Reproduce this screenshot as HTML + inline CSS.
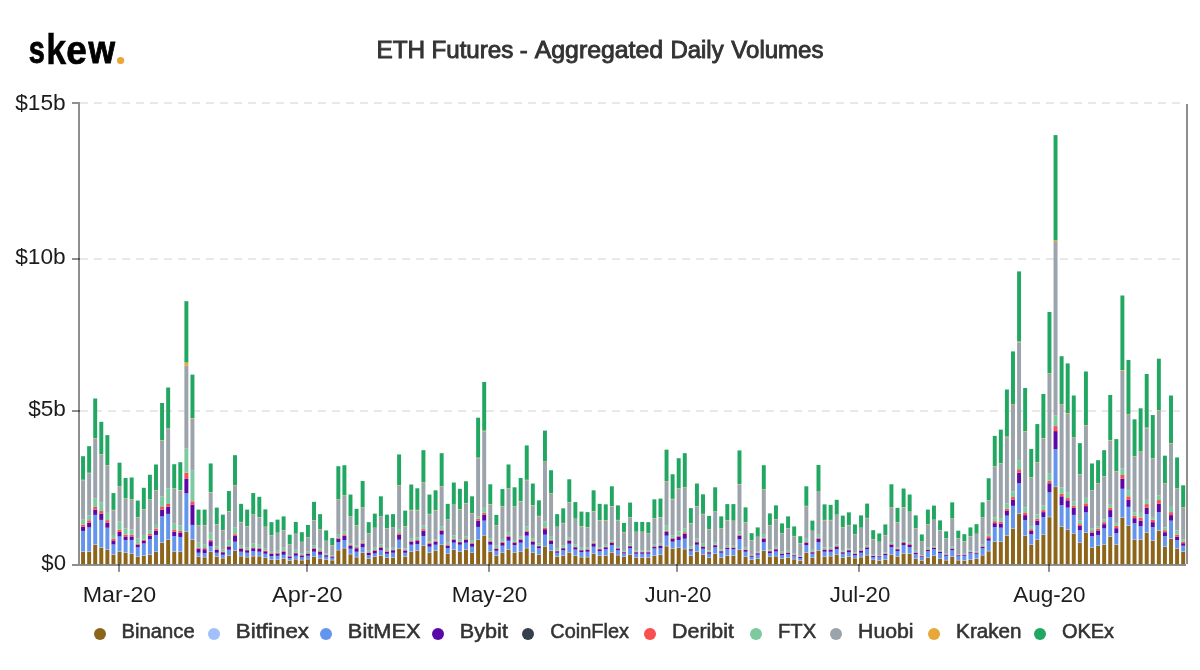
<!DOCTYPE html>
<html><head><meta charset="utf-8"><title>ETH Futures - Aggregated Daily Volumes</title>
<style>
html,body{margin:0;padding:0;background:#fff;}
body{width:1200px;height:670px;overflow:hidden;font-family:"Liberation Sans",sans-serif;}
svg{display:block;position:absolute;left:0;top:0;}
text{font-family:"Liberation Sans",sans-serif;}
.ax{fill:#1c1c1c;}
.lg{fill:#333;stroke:#333;}
.tt{fill:#333;stroke:#333;}
.logo{fill:#000;stroke:#000;font-weight:bold;}
</style></head><body>
<svg width="1200" height="670" viewBox="0 0 1200 670">
<rect x="0" y="0" width="1200" height="670" fill="#ffffff"/>

<circle cx="120.6" cy="60.5" r="3.6" fill="#e8a736"/>
<line x1="80" x2="1186" y1="103" y2="103" stroke="#e8e8e8" stroke-width="2" stroke-dasharray="8 6"/>
<line x1="80" x2="1186" y1="259" y2="259" stroke="#e8e8e8" stroke-width="2" stroke-dasharray="8 6"/>
<line x1="80" x2="1186" y1="411" y2="411" stroke="#e8e8e8" stroke-width="2" stroke-dasharray="8 6"/>
<g>
<rect x="81.08" y="551.75" width="3.95" height="12.35" fill="#8c641a"/>
<rect x="81.08" y="551.40" width="3.95" height="0.35" fill="#a0c0fa"/>
<rect x="81.08" y="530.93" width="3.95" height="20.47" fill="#6495ed"/>
<rect x="81.08" y="526.67" width="3.95" height="4.26" fill="#5a08a8"/>
<rect x="81.08" y="524.54" width="3.95" height="2.13" fill="#fb4e4e"/>
<rect x="81.08" y="519.65" width="3.95" height="4.89" fill="#7dcaa0"/>
<rect x="81.08" y="480.23" width="3.95" height="39.41" fill="#9ba3ab"/>
<rect x="81.08" y="479.77" width="3.95" height="0.47" fill="#e8a838"/>
<rect x="81.08" y="456.19" width="3.95" height="23.58" fill="#22a762"/>
<rect x="87.15" y="551.75" width="3.95" height="12.35" fill="#8c641a"/>
<rect x="87.15" y="551.40" width="3.95" height="0.35" fill="#a0c0fa"/>
<rect x="87.15" y="527.42" width="3.95" height="23.98" fill="#6495ed"/>
<rect x="87.15" y="522.66" width="3.95" height="4.77" fill="#5a08a8"/>
<rect x="87.15" y="520.27" width="3.95" height="2.38" fill="#fb4e4e"/>
<rect x="87.15" y="515.38" width="3.95" height="4.89" fill="#7dcaa0"/>
<rect x="87.15" y="473.23" width="3.95" height="42.15" fill="#9ba3ab"/>
<rect x="87.15" y="472.74" width="3.95" height="0.49" fill="#e8a838"/>
<rect x="87.15" y="446.16" width="3.95" height="26.59" fill="#22a762"/>
<rect x="93.23" y="544.73" width="3.95" height="19.37" fill="#8c641a"/>
<rect x="93.23" y="544.38" width="3.95" height="0.35" fill="#a0c0fa"/>
<rect x="93.23" y="514.88" width="3.95" height="29.50" fill="#6495ed"/>
<rect x="93.23" y="509.61" width="3.95" height="5.27" fill="#5a08a8"/>
<rect x="93.23" y="507.01" width="3.95" height="2.60" fill="#fb4e4e"/>
<rect x="93.23" y="498.33" width="3.95" height="8.69" fill="#7dcaa0"/>
<rect x="93.23" y="438.71" width="3.95" height="59.61" fill="#9ba3ab"/>
<rect x="93.23" y="438.13" width="3.95" height="0.58" fill="#e8a838"/>
<rect x="93.23" y="398.50" width="3.95" height="39.63" fill="#22a762"/>
<rect x="99.31" y="547.74" width="3.95" height="16.36" fill="#8c641a"/>
<rect x="99.31" y="547.39" width="3.95" height="0.35" fill="#a0c0fa"/>
<rect x="99.31" y="519.90" width="3.95" height="27.49" fill="#6495ed"/>
<rect x="99.31" y="513.63" width="3.95" height="6.27" fill="#5a08a8"/>
<rect x="99.31" y="511.03" width="3.95" height="2.60" fill="#fb4e4e"/>
<rect x="99.31" y="502.34" width="3.95" height="8.69" fill="#7dcaa0"/>
<rect x="99.31" y="454.72" width="3.95" height="47.62" fill="#9ba3ab"/>
<rect x="99.31" y="454.18" width="3.95" height="0.53" fill="#e8a838"/>
<rect x="99.31" y="421.83" width="3.95" height="32.36" fill="#22a762"/>
<rect x="105.39" y="549.74" width="3.95" height="14.36" fill="#8c641a"/>
<rect x="105.39" y="549.39" width="3.95" height="0.35" fill="#a0c0fa"/>
<rect x="105.39" y="527.67" width="3.95" height="21.72" fill="#6495ed"/>
<rect x="105.39" y="522.66" width="3.95" height="5.02" fill="#5a08a8"/>
<rect x="105.39" y="520.15" width="3.95" height="2.51" fill="#fb4e4e"/>
<rect x="105.39" y="512.87" width="3.95" height="7.27" fill="#7dcaa0"/>
<rect x="105.39" y="465.73" width="3.95" height="47.15" fill="#9ba3ab"/>
<rect x="105.39" y="465.22" width="3.95" height="0.51" fill="#e8a838"/>
<rect x="105.39" y="435.12" width="3.95" height="30.10" fill="#22a762"/>
<rect x="111.47" y="554.76" width="3.95" height="9.34" fill="#8c641a"/>
<rect x="111.47" y="554.41" width="3.95" height="0.35" fill="#a0c0fa"/>
<rect x="111.47" y="544.48" width="3.95" height="9.93" fill="#6495ed"/>
<rect x="111.47" y="540.46" width="3.95" height="4.01" fill="#5a08a8"/>
<rect x="111.47" y="538.46" width="3.95" height="2.01" fill="#fb4e4e"/>
<rect x="111.47" y="534.95" width="3.95" height="3.51" fill="#7dcaa0"/>
<rect x="111.47" y="510.26" width="3.95" height="24.69" fill="#9ba3ab"/>
<rect x="111.47" y="509.86" width="3.95" height="0.39" fill="#e8a838"/>
<rect x="111.47" y="493.06" width="3.95" height="16.80" fill="#22a762"/>
<rect x="117.54" y="551.75" width="3.95" height="12.35" fill="#8c641a"/>
<rect x="117.54" y="551.40" width="3.95" height="0.35" fill="#a0c0fa"/>
<rect x="117.54" y="536.45" width="3.95" height="14.95" fill="#6495ed"/>
<rect x="117.54" y="531.94" width="3.95" height="4.51" fill="#5a08a8"/>
<rect x="117.54" y="529.68" width="3.95" height="2.26" fill="#fb4e4e"/>
<rect x="117.54" y="521.65" width="3.95" height="8.03" fill="#7dcaa0"/>
<rect x="117.54" y="486.74" width="3.95" height="34.91" fill="#9ba3ab"/>
<rect x="117.54" y="486.29" width="3.95" height="0.45" fill="#e8a838"/>
<rect x="117.54" y="462.71" width="3.95" height="23.58" fill="#22a762"/>
<rect x="123.62" y="552.75" width="3.95" height="11.35" fill="#8c641a"/>
<rect x="123.62" y="552.40" width="3.95" height="0.35" fill="#a0c0fa"/>
<rect x="123.62" y="539.96" width="3.95" height="12.44" fill="#6495ed"/>
<rect x="123.62" y="536.45" width="3.95" height="3.51" fill="#5a08a8"/>
<rect x="123.62" y="534.69" width="3.95" height="1.76" fill="#fb4e4e"/>
<rect x="123.62" y="528.42" width="3.95" height="6.27" fill="#7dcaa0"/>
<rect x="123.62" y="498.75" width="3.95" height="29.68" fill="#9ba3ab"/>
<rect x="123.62" y="498.33" width="3.95" height="0.42" fill="#e8a838"/>
<rect x="123.62" y="478.01" width="3.95" height="20.32" fill="#22a762"/>
<rect x="129.70" y="553.76" width="3.95" height="10.34" fill="#8c641a"/>
<rect x="129.70" y="553.41" width="3.95" height="0.35" fill="#a0c0fa"/>
<rect x="129.70" y="539.96" width="3.95" height="13.44" fill="#6495ed"/>
<rect x="129.70" y="536.45" width="3.95" height="3.51" fill="#5a08a8"/>
<rect x="129.70" y="534.69" width="3.95" height="1.76" fill="#fb4e4e"/>
<rect x="129.70" y="529.43" width="3.95" height="5.27" fill="#7dcaa0"/>
<rect x="129.70" y="499.75" width="3.95" height="29.67" fill="#9ba3ab"/>
<rect x="129.70" y="499.33" width="3.95" height="0.42" fill="#e8a838"/>
<rect x="129.70" y="477.51" width="3.95" height="21.82" fill="#22a762"/>
<rect x="135.78" y="556.77" width="3.95" height="7.33" fill="#8c641a"/>
<rect x="135.78" y="556.42" width="3.95" height="0.35" fill="#a0c0fa"/>
<rect x="135.78" y="547.24" width="3.95" height="9.18" fill="#6495ed"/>
<rect x="135.78" y="544.73" width="3.95" height="2.51" fill="#5a08a8"/>
<rect x="135.78" y="543.47" width="3.95" height="1.25" fill="#fb4e4e"/>
<rect x="135.78" y="538.46" width="3.95" height="5.02" fill="#7dcaa0"/>
<rect x="135.78" y="517.51" width="3.95" height="20.94" fill="#9ba3ab"/>
<rect x="135.78" y="517.14" width="3.95" height="0.38" fill="#e8a838"/>
<rect x="135.78" y="500.58" width="3.95" height="16.55" fill="#22a762"/>
<rect x="141.85" y="555.76" width="3.95" height="8.34" fill="#8c641a"/>
<rect x="141.85" y="555.41" width="3.95" height="0.35" fill="#a0c0fa"/>
<rect x="141.85" y="543.47" width="3.95" height="11.94" fill="#6495ed"/>
<rect x="141.85" y="540.96" width="3.95" height="2.51" fill="#5a08a8"/>
<rect x="141.85" y="539.71" width="3.95" height="1.25" fill="#fb4e4e"/>
<rect x="141.85" y="534.95" width="3.95" height="4.77" fill="#7dcaa0"/>
<rect x="141.85" y="509.51" width="3.95" height="25.43" fill="#9ba3ab"/>
<rect x="141.85" y="509.11" width="3.95" height="0.40" fill="#e8a838"/>
<rect x="141.85" y="487.79" width="3.95" height="21.32" fill="#22a762"/>
<rect x="147.93" y="554.76" width="3.95" height="9.34" fill="#8c641a"/>
<rect x="147.93" y="554.41" width="3.95" height="0.35" fill="#a0c0fa"/>
<rect x="147.93" y="539.21" width="3.95" height="15.20" fill="#6495ed"/>
<rect x="147.93" y="535.70" width="3.95" height="3.51" fill="#5a08a8"/>
<rect x="147.93" y="533.94" width="3.95" height="1.76" fill="#fb4e4e"/>
<rect x="147.93" y="530.18" width="3.95" height="3.76" fill="#7dcaa0"/>
<rect x="147.93" y="499.76" width="3.95" height="30.42" fill="#9ba3ab"/>
<rect x="147.93" y="499.33" width="3.95" height="0.43" fill="#e8a838"/>
<rect x="147.93" y="474.75" width="3.95" height="24.58" fill="#22a762"/>
<rect x="154.01" y="551.75" width="3.95" height="12.35" fill="#8c641a"/>
<rect x="154.01" y="551.40" width="3.95" height="0.35" fill="#a0c0fa"/>
<rect x="154.01" y="534.95" width="3.95" height="16.45" fill="#6495ed"/>
<rect x="154.01" y="530.68" width="3.95" height="4.26" fill="#5a08a8"/>
<rect x="154.01" y="528.55" width="3.95" height="2.13" fill="#fb4e4e"/>
<rect x="154.01" y="524.91" width="3.95" height="3.64" fill="#7dcaa0"/>
<rect x="154.01" y="490.75" width="3.95" height="34.16" fill="#9ba3ab"/>
<rect x="154.01" y="490.30" width="3.95" height="0.45" fill="#e8a838"/>
<rect x="154.01" y="464.47" width="3.95" height="25.83" fill="#22a762"/>
<rect x="160.09" y="542.72" width="3.95" height="21.38" fill="#8c641a"/>
<rect x="160.09" y="542.37" width="3.95" height="0.35" fill="#a0c0fa"/>
<rect x="160.09" y="516.38" width="3.95" height="25.99" fill="#6495ed"/>
<rect x="160.09" y="509.61" width="3.95" height="6.77" fill="#5a08a8"/>
<rect x="160.09" y="507.01" width="3.95" height="2.60" fill="#fb4e4e"/>
<rect x="160.09" y="496.32" width="3.95" height="10.69" fill="#7dcaa0"/>
<rect x="160.09" y="440.71" width="3.95" height="55.61" fill="#9ba3ab"/>
<rect x="160.09" y="440.14" width="3.95" height="0.57" fill="#e8a838"/>
<rect x="160.09" y="403.00" width="3.95" height="37.14" fill="#22a762"/>
<rect x="166.17" y="539.96" width="3.95" height="24.14" fill="#8c641a"/>
<rect x="166.17" y="539.61" width="3.95" height="0.35" fill="#a0c0fa"/>
<rect x="166.17" y="513.88" width="3.95" height="25.73" fill="#6495ed"/>
<rect x="166.17" y="506.60" width="3.95" height="7.27" fill="#5a08a8"/>
<rect x="166.17" y="504.00" width="3.95" height="2.60" fill="#fb4e4e"/>
<rect x="166.17" y="488.29" width="3.95" height="15.71" fill="#7dcaa0"/>
<rect x="166.17" y="428.95" width="3.95" height="59.34" fill="#9ba3ab"/>
<rect x="166.17" y="428.35" width="3.95" height="0.60" fill="#e8a838"/>
<rect x="166.17" y="387.50" width="3.95" height="40.85" fill="#22a762"/>
<rect x="172.25" y="551.75" width="3.95" height="12.35" fill="#8c641a"/>
<rect x="172.25" y="551.40" width="3.95" height="0.35" fill="#a0c0fa"/>
<rect x="172.25" y="536.20" width="3.95" height="15.20" fill="#6495ed"/>
<rect x="172.25" y="531.68" width="3.95" height="4.51" fill="#5a08a8"/>
<rect x="172.25" y="529.43" width="3.95" height="2.26" fill="#fb4e4e"/>
<rect x="172.25" y="523.66" width="3.95" height="5.77" fill="#7dcaa0"/>
<rect x="172.25" y="488.74" width="3.95" height="34.92" fill="#9ba3ab"/>
<rect x="172.25" y="488.29" width="3.95" height="0.45" fill="#e8a838"/>
<rect x="172.25" y="464.22" width="3.95" height="24.08" fill="#22a762"/>
<rect x="178.32" y="551.75" width="3.95" height="12.35" fill="#8c641a"/>
<rect x="178.32" y="551.40" width="3.95" height="0.35" fill="#a0c0fa"/>
<rect x="178.32" y="536.95" width="3.95" height="14.45" fill="#6495ed"/>
<rect x="178.32" y="532.94" width="3.95" height="4.01" fill="#5a08a8"/>
<rect x="178.32" y="530.93" width="3.95" height="2.01" fill="#fb4e4e"/>
<rect x="178.32" y="525.41" width="3.95" height="5.52" fill="#7dcaa0"/>
<rect x="178.32" y="490.50" width="3.95" height="34.91" fill="#9ba3ab"/>
<rect x="178.32" y="490.05" width="3.95" height="0.45" fill="#e8a838"/>
<rect x="178.32" y="462.21" width="3.95" height="27.84" fill="#22a762"/>
<rect x="184.40" y="531.68" width="3.95" height="32.42" fill="#8c641a"/>
<rect x="184.40" y="531.33" width="3.95" height="0.35" fill="#a0c0fa"/>
<rect x="184.40" y="493.31" width="3.95" height="38.02" fill="#6495ed"/>
<rect x="184.40" y="478.51" width="3.95" height="14.80" fill="#5a08a8"/>
<rect x="184.40" y="472.74" width="3.95" height="5.77" fill="#fb4e4e"/>
<rect x="184.40" y="448.66" width="3.95" height="24.08" fill="#7dcaa0"/>
<rect x="184.40" y="365.80" width="3.95" height="82.86" fill="#9ba3ab"/>
<rect x="184.40" y="362.40" width="3.95" height="3.40" fill="#e8a838"/>
<rect x="184.40" y="301.20" width="3.95" height="61.20" fill="#22a762"/>
<rect x="190.48" y="539.71" width="3.95" height="24.39" fill="#8c641a"/>
<rect x="190.48" y="539.36" width="3.95" height="0.35" fill="#a0c0fa"/>
<rect x="190.48" y="524.91" width="3.95" height="14.45" fill="#6495ed"/>
<rect x="190.48" y="504.60" width="3.95" height="20.32" fill="#5a08a8"/>
<rect x="190.48" y="501.34" width="3.95" height="3.26" fill="#fb4e4e"/>
<rect x="190.48" y="470.23" width="3.95" height="31.10" fill="#7dcaa0"/>
<rect x="190.48" y="418.69" width="3.95" height="51.54" fill="#9ba3ab"/>
<rect x="190.48" y="418.07" width="3.95" height="0.63" fill="#e8a838"/>
<rect x="190.48" y="374.60" width="3.95" height="43.47" fill="#22a762"/>
<rect x="196.56" y="556.77" width="3.95" height="7.33" fill="#8c641a"/>
<rect x="196.56" y="556.42" width="3.95" height="0.35" fill="#a0c0fa"/>
<rect x="196.56" y="552.75" width="3.95" height="3.66" fill="#6495ed"/>
<rect x="196.56" y="548.74" width="3.95" height="4.01" fill="#5a08a8"/>
<rect x="196.56" y="547.54" width="3.95" height="1.20" fill="#fb4e4e"/>
<rect x="196.56" y="542.72" width="3.95" height="4.82" fill="#7dcaa0"/>
<rect x="196.56" y="525.52" width="3.95" height="17.20" fill="#9ba3ab"/>
<rect x="196.56" y="525.16" width="3.95" height="0.36" fill="#e8a838"/>
<rect x="196.56" y="509.61" width="3.95" height="15.55" fill="#22a762"/>
<rect x="202.64" y="557.27" width="3.95" height="6.83" fill="#8c641a"/>
<rect x="202.64" y="556.92" width="3.95" height="0.35" fill="#a0c0fa"/>
<rect x="202.64" y="553.25" width="3.95" height="3.66" fill="#6495ed"/>
<rect x="202.64" y="549.24" width="3.95" height="4.01" fill="#5a08a8"/>
<rect x="202.64" y="548.04" width="3.95" height="1.20" fill="#fb4e4e"/>
<rect x="202.64" y="544.73" width="3.95" height="3.31" fill="#7dcaa0"/>
<rect x="202.64" y="525.52" width="3.95" height="19.20" fill="#9ba3ab"/>
<rect x="202.64" y="525.16" width="3.95" height="0.36" fill="#e8a838"/>
<rect x="202.64" y="509.61" width="3.95" height="15.55" fill="#22a762"/>
<rect x="208.71" y="551.75" width="3.95" height="12.35" fill="#8c641a"/>
<rect x="208.71" y="551.40" width="3.95" height="0.35" fill="#a0c0fa"/>
<rect x="208.71" y="546.23" width="3.95" height="5.17" fill="#6495ed"/>
<rect x="208.71" y="541.22" width="3.95" height="5.02" fill="#5a08a8"/>
<rect x="208.71" y="539.71" width="3.95" height="1.50" fill="#fb4e4e"/>
<rect x="208.71" y="532.69" width="3.95" height="7.02" fill="#7dcaa0"/>
<rect x="208.71" y="492.51" width="3.95" height="40.18" fill="#9ba3ab"/>
<rect x="208.71" y="492.06" width="3.95" height="0.45" fill="#e8a838"/>
<rect x="208.71" y="463.46" width="3.95" height="28.59" fill="#22a762"/>
<rect x="214.79" y="556.77" width="3.95" height="7.33" fill="#8c641a"/>
<rect x="214.79" y="556.42" width="3.95" height="0.35" fill="#a0c0fa"/>
<rect x="214.79" y="552.75" width="3.95" height="3.66" fill="#6495ed"/>
<rect x="214.79" y="549.99" width="3.95" height="2.76" fill="#5a08a8"/>
<rect x="214.79" y="549.17" width="3.95" height="0.83" fill="#fb4e4e"/>
<rect x="214.79" y="546.23" width="3.95" height="2.93" fill="#7dcaa0"/>
<rect x="214.79" y="524.52" width="3.95" height="21.71" fill="#9ba3ab"/>
<rect x="214.79" y="524.16" width="3.95" height="0.36" fill="#e8a838"/>
<rect x="214.79" y="507.61" width="3.95" height="16.55" fill="#22a762"/>
<rect x="220.87" y="558.27" width="3.95" height="5.83" fill="#8c641a"/>
<rect x="220.87" y="557.92" width="3.95" height="0.35" fill="#a0c0fa"/>
<rect x="220.87" y="554.76" width="3.95" height="3.16" fill="#6495ed"/>
<rect x="220.87" y="552.25" width="3.95" height="2.51" fill="#5a08a8"/>
<rect x="220.87" y="551.50" width="3.95" height="0.75" fill="#fb4e4e"/>
<rect x="220.87" y="549.24" width="3.95" height="2.26" fill="#7dcaa0"/>
<rect x="220.87" y="530.53" width="3.95" height="18.71" fill="#9ba3ab"/>
<rect x="220.87" y="530.18" width="3.95" height="0.35" fill="#e8a838"/>
<rect x="220.87" y="514.63" width="3.95" height="15.55" fill="#22a762"/>
<rect x="226.95" y="555.76" width="3.95" height="8.34" fill="#8c641a"/>
<rect x="226.95" y="555.41" width="3.95" height="0.35" fill="#a0c0fa"/>
<rect x="226.95" y="549.74" width="3.95" height="5.67" fill="#6495ed"/>
<rect x="226.95" y="546.73" width="3.95" height="3.01" fill="#5a08a8"/>
<rect x="226.95" y="545.83" width="3.95" height="0.90" fill="#fb4e4e"/>
<rect x="226.95" y="540.21" width="3.95" height="5.62" fill="#7dcaa0"/>
<rect x="226.95" y="511.51" width="3.95" height="28.70" fill="#9ba3ab"/>
<rect x="226.95" y="511.12" width="3.95" height="0.40" fill="#e8a838"/>
<rect x="226.95" y="491.05" width="3.95" height="20.07" fill="#22a762"/>
<rect x="233.03" y="550.75" width="3.95" height="13.35" fill="#8c641a"/>
<rect x="233.03" y="550.40" width="3.95" height="0.35" fill="#a0c0fa"/>
<rect x="233.03" y="541.72" width="3.95" height="8.68" fill="#6495ed"/>
<rect x="233.03" y="535.95" width="3.95" height="5.77" fill="#5a08a8"/>
<rect x="233.03" y="534.22" width="3.95" height="1.73" fill="#fb4e4e"/>
<rect x="233.03" y="527.17" width="3.95" height="7.05" fill="#7dcaa0"/>
<rect x="233.03" y="485.75" width="3.95" height="41.42" fill="#9ba3ab"/>
<rect x="233.03" y="485.28" width="3.95" height="0.47" fill="#e8a838"/>
<rect x="233.03" y="455.19" width="3.95" height="30.10" fill="#22a762"/>
<rect x="239.10" y="556.26" width="3.95" height="7.84" fill="#8c641a"/>
<rect x="239.10" y="555.91" width="3.95" height="0.35" fill="#a0c0fa"/>
<rect x="239.10" y="551.75" width="3.95" height="4.16" fill="#6495ed"/>
<rect x="239.10" y="548.74" width="3.95" height="3.01" fill="#5a08a8"/>
<rect x="239.10" y="547.84" width="3.95" height="0.90" fill="#fb4e4e"/>
<rect x="239.10" y="545.23" width="3.95" height="2.61" fill="#7dcaa0"/>
<rect x="239.10" y="522.27" width="3.95" height="22.96" fill="#9ba3ab"/>
<rect x="239.10" y="521.90" width="3.95" height="0.37" fill="#e8a838"/>
<rect x="239.10" y="503.84" width="3.95" height="18.06" fill="#22a762"/>
<rect x="245.18" y="557.27" width="3.95" height="6.83" fill="#8c641a"/>
<rect x="245.18" y="556.92" width="3.95" height="0.35" fill="#a0c0fa"/>
<rect x="245.18" y="552.75" width="3.95" height="4.16" fill="#6495ed"/>
<rect x="245.18" y="550.24" width="3.95" height="2.51" fill="#5a08a8"/>
<rect x="245.18" y="549.49" width="3.95" height="0.75" fill="#fb4e4e"/>
<rect x="245.18" y="547.24" width="3.95" height="2.26" fill="#7dcaa0"/>
<rect x="245.18" y="526.53" width="3.95" height="20.71" fill="#9ba3ab"/>
<rect x="245.18" y="526.17" width="3.95" height="0.36" fill="#e8a838"/>
<rect x="245.18" y="509.61" width="3.95" height="16.55" fill="#22a762"/>
<rect x="251.26" y="556.26" width="3.95" height="7.84" fill="#8c641a"/>
<rect x="251.26" y="555.91" width="3.95" height="0.35" fill="#a0c0fa"/>
<rect x="251.26" y="551.25" width="3.95" height="4.67" fill="#6495ed"/>
<rect x="251.26" y="548.24" width="3.95" height="3.01" fill="#5a08a8"/>
<rect x="251.26" y="547.34" width="3.95" height="0.90" fill="#fb4e4e"/>
<rect x="251.26" y="543.22" width="3.95" height="4.11" fill="#7dcaa0"/>
<rect x="251.26" y="514.77" width="3.95" height="28.45" fill="#9ba3ab"/>
<rect x="251.26" y="514.38" width="3.95" height="0.39" fill="#e8a838"/>
<rect x="251.26" y="493.06" width="3.95" height="21.32" fill="#22a762"/>
<rect x="257.34" y="556.26" width="3.95" height="7.84" fill="#8c641a"/>
<rect x="257.34" y="555.91" width="3.95" height="0.35" fill="#a0c0fa"/>
<rect x="257.34" y="551.75" width="3.95" height="4.16" fill="#6495ed"/>
<rect x="257.34" y="548.74" width="3.95" height="3.01" fill="#5a08a8"/>
<rect x="257.34" y="547.84" width="3.95" height="0.90" fill="#fb4e4e"/>
<rect x="257.34" y="544.73" width="3.95" height="3.11" fill="#7dcaa0"/>
<rect x="257.34" y="517.52" width="3.95" height="27.21" fill="#9ba3ab"/>
<rect x="257.34" y="517.14" width="3.95" height="0.38" fill="#e8a838"/>
<rect x="257.34" y="496.82" width="3.95" height="20.32" fill="#22a762"/>
<rect x="263.41" y="557.77" width="3.95" height="6.33" fill="#8c641a"/>
<rect x="263.41" y="557.42" width="3.95" height="0.35" fill="#a0c0fa"/>
<rect x="263.41" y="553.76" width="3.95" height="3.66" fill="#6495ed"/>
<rect x="263.41" y="551.25" width="3.95" height="2.51" fill="#5a08a8"/>
<rect x="263.41" y="550.50" width="3.95" height="0.75" fill="#fb4e4e"/>
<rect x="263.41" y="548.74" width="3.95" height="1.76" fill="#7dcaa0"/>
<rect x="263.41" y="527.03" width="3.95" height="21.71" fill="#9ba3ab"/>
<rect x="263.41" y="526.67" width="3.95" height="0.36" fill="#e8a838"/>
<rect x="263.41" y="509.36" width="3.95" height="17.31" fill="#22a762"/>
<rect x="269.49" y="559.78" width="3.95" height="4.32" fill="#8c641a"/>
<rect x="269.49" y="559.43" width="3.95" height="0.35" fill="#a0c0fa"/>
<rect x="269.49" y="556.01" width="3.95" height="3.41" fill="#6495ed"/>
<rect x="269.49" y="553.76" width="3.95" height="2.26" fill="#5a08a8"/>
<rect x="269.49" y="553.08" width="3.95" height="0.68" fill="#fb4e4e"/>
<rect x="269.49" y="551.75" width="3.95" height="1.33" fill="#7dcaa0"/>
<rect x="269.49" y="535.53" width="3.95" height="16.22" fill="#9ba3ab"/>
<rect x="269.49" y="535.20" width="3.95" height="0.33" fill="#e8a838"/>
<rect x="269.49" y="522.15" width="3.95" height="13.04" fill="#22a762"/>
<rect x="275.57" y="559.78" width="3.95" height="4.32" fill="#8c641a"/>
<rect x="275.57" y="559.43" width="3.95" height="0.35" fill="#a0c0fa"/>
<rect x="275.57" y="555.76" width="3.95" height="3.66" fill="#6495ed"/>
<rect x="275.57" y="553.51" width="3.95" height="2.26" fill="#5a08a8"/>
<rect x="275.57" y="552.83" width="3.95" height="0.68" fill="#fb4e4e"/>
<rect x="275.57" y="550.75" width="3.95" height="2.08" fill="#7dcaa0"/>
<rect x="275.57" y="533.03" width="3.95" height="17.72" fill="#9ba3ab"/>
<rect x="275.57" y="532.69" width="3.95" height="0.34" fill="#e8a838"/>
<rect x="275.57" y="519.65" width="3.95" height="13.04" fill="#22a762"/>
<rect x="281.65" y="558.77" width="3.95" height="5.33" fill="#8c641a"/>
<rect x="281.65" y="558.42" width="3.95" height="0.35" fill="#a0c0fa"/>
<rect x="281.65" y="554.76" width="3.95" height="3.66" fill="#6495ed"/>
<rect x="281.65" y="551.75" width="3.95" height="3.01" fill="#5a08a8"/>
<rect x="281.65" y="550.85" width="3.95" height="0.90" fill="#fb4e4e"/>
<rect x="281.65" y="547.74" width="3.95" height="3.11" fill="#7dcaa0"/>
<rect x="281.65" y="530.53" width="3.95" height="17.21" fill="#9ba3ab"/>
<rect x="281.65" y="530.18" width="3.95" height="0.35" fill="#e8a838"/>
<rect x="281.65" y="516.38" width="3.95" height="13.79" fill="#22a762"/>
<rect x="287.73" y="560.78" width="3.95" height="3.32" fill="#8c641a"/>
<rect x="287.73" y="560.43" width="3.95" height="0.35" fill="#a0c0fa"/>
<rect x="287.73" y="558.02" width="3.95" height="2.41" fill="#6495ed"/>
<rect x="287.73" y="556.52" width="3.95" height="1.50" fill="#5a08a8"/>
<rect x="287.73" y="556.06" width="3.95" height="0.45" fill="#fb4e4e"/>
<rect x="287.73" y="555.01" width="3.95" height="1.05" fill="#7dcaa0"/>
<rect x="287.73" y="544.53" width="3.95" height="10.48" fill="#9ba3ab"/>
<rect x="287.73" y="544.23" width="3.95" height="0.31" fill="#e8a838"/>
<rect x="287.73" y="534.69" width="3.95" height="9.53" fill="#22a762"/>
<rect x="293.81" y="559.27" width="3.95" height="4.83" fill="#8c641a"/>
<rect x="293.81" y="558.92" width="3.95" height="0.35" fill="#a0c0fa"/>
<rect x="293.81" y="555.76" width="3.95" height="3.16" fill="#6495ed"/>
<rect x="293.81" y="553.25" width="3.95" height="2.51" fill="#5a08a8"/>
<rect x="293.81" y="552.50" width="3.95" height="0.75" fill="#fb4e4e"/>
<rect x="293.81" y="549.74" width="3.95" height="2.76" fill="#7dcaa0"/>
<rect x="293.81" y="534.03" width="3.95" height="15.72" fill="#9ba3ab"/>
<rect x="293.81" y="533.69" width="3.95" height="0.33" fill="#e8a838"/>
<rect x="293.81" y="521.90" width="3.95" height="11.79" fill="#22a762"/>
<rect x="299.88" y="560.28" width="3.95" height="3.82" fill="#8c641a"/>
<rect x="299.88" y="559.93" width="3.95" height="0.35" fill="#a0c0fa"/>
<rect x="299.88" y="557.27" width="3.95" height="2.66" fill="#6495ed"/>
<rect x="299.88" y="555.51" width="3.95" height="1.76" fill="#5a08a8"/>
<rect x="299.88" y="554.99" width="3.95" height="0.53" fill="#fb4e4e"/>
<rect x="299.88" y="553.25" width="3.95" height="1.73" fill="#7dcaa0"/>
<rect x="299.88" y="542.03" width="3.95" height="11.22" fill="#9ba3ab"/>
<rect x="299.88" y="541.72" width="3.95" height="0.31" fill="#e8a838"/>
<rect x="299.88" y="532.19" width="3.95" height="9.53" fill="#22a762"/>
<rect x="305.96" y="559.27" width="3.95" height="4.83" fill="#8c641a"/>
<rect x="305.96" y="558.92" width="3.95" height="0.35" fill="#a0c0fa"/>
<rect x="305.96" y="555.76" width="3.95" height="3.16" fill="#6495ed"/>
<rect x="305.96" y="553.76" width="3.95" height="2.01" fill="#5a08a8"/>
<rect x="305.96" y="553.15" width="3.95" height="0.60" fill="#fb4e4e"/>
<rect x="305.96" y="551.25" width="3.95" height="1.91" fill="#7dcaa0"/>
<rect x="305.96" y="537.53" width="3.95" height="13.72" fill="#9ba3ab"/>
<rect x="305.96" y="537.20" width="3.95" height="0.33" fill="#e8a838"/>
<rect x="305.96" y="524.91" width="3.95" height="12.29" fill="#22a762"/>
<rect x="312.04" y="556.77" width="3.95" height="7.33" fill="#8c641a"/>
<rect x="312.04" y="556.42" width="3.95" height="0.35" fill="#a0c0fa"/>
<rect x="312.04" y="551.75" width="3.95" height="4.67" fill="#6495ed"/>
<rect x="312.04" y="548.74" width="3.95" height="3.01" fill="#5a08a8"/>
<rect x="312.04" y="547.84" width="3.95" height="0.90" fill="#fb4e4e"/>
<rect x="312.04" y="545.23" width="3.95" height="2.61" fill="#7dcaa0"/>
<rect x="312.04" y="520.52" width="3.95" height="24.71" fill="#9ba3ab"/>
<rect x="312.04" y="520.15" width="3.95" height="0.37" fill="#e8a838"/>
<rect x="312.04" y="501.84" width="3.95" height="18.31" fill="#22a762"/>
<rect x="318.12" y="558.77" width="3.95" height="5.33" fill="#8c641a"/>
<rect x="318.12" y="558.42" width="3.95" height="0.35" fill="#a0c0fa"/>
<rect x="318.12" y="554.76" width="3.95" height="3.66" fill="#6495ed"/>
<rect x="318.12" y="551.75" width="3.95" height="3.01" fill="#5a08a8"/>
<rect x="318.12" y="550.85" width="3.95" height="0.90" fill="#fb4e4e"/>
<rect x="318.12" y="548.49" width="3.95" height="2.36" fill="#7dcaa0"/>
<rect x="318.12" y="529.53" width="3.95" height="18.96" fill="#9ba3ab"/>
<rect x="318.12" y="529.18" width="3.95" height="0.35" fill="#e8a838"/>
<rect x="318.12" y="514.13" width="3.95" height="15.05" fill="#22a762"/>
<rect x="324.19" y="559.78" width="3.95" height="4.32" fill="#8c641a"/>
<rect x="324.19" y="559.43" width="3.95" height="0.35" fill="#a0c0fa"/>
<rect x="324.19" y="556.77" width="3.95" height="2.66" fill="#6495ed"/>
<rect x="324.19" y="555.26" width="3.95" height="1.50" fill="#5a08a8"/>
<rect x="324.19" y="554.81" width="3.95" height="0.45" fill="#fb4e4e"/>
<rect x="324.19" y="553.51" width="3.95" height="1.30" fill="#7dcaa0"/>
<rect x="324.19" y="541.03" width="3.95" height="12.47" fill="#9ba3ab"/>
<rect x="324.19" y="540.71" width="3.95" height="0.32" fill="#e8a838"/>
<rect x="324.19" y="530.43" width="3.95" height="10.28" fill="#22a762"/>
<rect x="330.27" y="560.28" width="3.95" height="3.82" fill="#8c641a"/>
<rect x="330.27" y="559.93" width="3.95" height="0.35" fill="#a0c0fa"/>
<rect x="330.27" y="557.77" width="3.95" height="2.16" fill="#6495ed"/>
<rect x="330.27" y="556.52" width="3.95" height="1.25" fill="#5a08a8"/>
<rect x="330.27" y="556.12" width="3.95" height="0.40" fill="#fb4e4e"/>
<rect x="330.27" y="555.26" width="3.95" height="0.85" fill="#7dcaa0"/>
<rect x="330.27" y="545.53" width="3.95" height="9.73" fill="#9ba3ab"/>
<rect x="330.27" y="545.23" width="3.95" height="0.30" fill="#e8a838"/>
<rect x="330.27" y="537.95" width="3.95" height="7.27" fill="#22a762"/>
<rect x="336.35" y="550.24" width="3.95" height="13.86" fill="#8c641a"/>
<rect x="336.35" y="549.89" width="3.95" height="0.35" fill="#a0c0fa"/>
<rect x="336.35" y="542.22" width="3.95" height="7.68" fill="#6495ed"/>
<rect x="336.35" y="538.71" width="3.95" height="3.51" fill="#5a08a8"/>
<rect x="336.35" y="537.65" width="3.95" height="1.05" fill="#fb4e4e"/>
<rect x="336.35" y="534.69" width="3.95" height="2.96" fill="#7dcaa0"/>
<rect x="336.35" y="499.78" width="3.95" height="34.92" fill="#9ba3ab"/>
<rect x="336.35" y="499.33" width="3.95" height="0.45" fill="#e8a838"/>
<rect x="336.35" y="466.22" width="3.95" height="33.11" fill="#22a762"/>
<rect x="342.43" y="548.24" width="3.95" height="15.86" fill="#8c641a"/>
<rect x="342.43" y="547.89" width="3.95" height="0.35" fill="#a0c0fa"/>
<rect x="342.43" y="540.21" width="3.95" height="7.68" fill="#6495ed"/>
<rect x="342.43" y="535.70" width="3.95" height="4.51" fill="#5a08a8"/>
<rect x="342.43" y="534.34" width="3.95" height="1.35" fill="#fb4e4e"/>
<rect x="342.43" y="531.18" width="3.95" height="3.16" fill="#7dcaa0"/>
<rect x="342.43" y="495.76" width="3.95" height="35.42" fill="#9ba3ab"/>
<rect x="342.43" y="495.32" width="3.95" height="0.45" fill="#e8a838"/>
<rect x="342.43" y="465.22" width="3.95" height="30.10" fill="#22a762"/>
<rect x="348.51" y="554.26" width="3.95" height="9.84" fill="#8c641a"/>
<rect x="348.51" y="553.91" width="3.95" height="0.35" fill="#a0c0fa"/>
<rect x="348.51" y="548.74" width="3.95" height="5.17" fill="#6495ed"/>
<rect x="348.51" y="545.73" width="3.95" height="3.01" fill="#5a08a8"/>
<rect x="348.51" y="544.83" width="3.95" height="0.90" fill="#fb4e4e"/>
<rect x="348.51" y="543.22" width="3.95" height="1.61" fill="#7dcaa0"/>
<rect x="348.51" y="516.77" width="3.95" height="26.45" fill="#9ba3ab"/>
<rect x="348.51" y="516.38" width="3.95" height="0.39" fill="#e8a838"/>
<rect x="348.51" y="494.56" width="3.95" height="21.82" fill="#22a762"/>
<rect x="354.58" y="557.27" width="3.95" height="6.83" fill="#8c641a"/>
<rect x="354.58" y="556.92" width="3.95" height="0.35" fill="#a0c0fa"/>
<rect x="354.58" y="551.75" width="3.95" height="5.17" fill="#6495ed"/>
<rect x="354.58" y="548.24" width="3.95" height="3.51" fill="#5a08a8"/>
<rect x="354.58" y="547.18" width="3.95" height="1.05" fill="#fb4e4e"/>
<rect x="354.58" y="545.23" width="3.95" height="1.96" fill="#7dcaa0"/>
<rect x="354.58" y="525.52" width="3.95" height="19.70" fill="#9ba3ab"/>
<rect x="354.58" y="525.16" width="3.95" height="0.36" fill="#e8a838"/>
<rect x="354.58" y="508.86" width="3.95" height="16.30" fill="#22a762"/>
<rect x="360.66" y="552.75" width="3.95" height="11.35" fill="#8c641a"/>
<rect x="360.66" y="552.40" width="3.95" height="0.35" fill="#a0c0fa"/>
<rect x="360.66" y="547.24" width="3.95" height="5.17" fill="#6495ed"/>
<rect x="360.66" y="543.72" width="3.95" height="3.51" fill="#5a08a8"/>
<rect x="360.66" y="542.67" width="3.95" height="1.05" fill="#fb4e4e"/>
<rect x="360.66" y="540.71" width="3.95" height="1.96" fill="#7dcaa0"/>
<rect x="360.66" y="507.77" width="3.95" height="32.94" fill="#9ba3ab"/>
<rect x="360.66" y="507.36" width="3.95" height="0.42" fill="#e8a838"/>
<rect x="360.66" y="481.02" width="3.95" height="26.34" fill="#22a762"/>
<rect x="366.74" y="558.77" width="3.95" height="5.33" fill="#8c641a"/>
<rect x="366.74" y="558.42" width="3.95" height="0.35" fill="#a0c0fa"/>
<rect x="366.74" y="555.26" width="3.95" height="3.16" fill="#6495ed"/>
<rect x="366.74" y="553.00" width="3.95" height="2.26" fill="#5a08a8"/>
<rect x="366.74" y="552.33" width="3.95" height="0.68" fill="#fb4e4e"/>
<rect x="366.74" y="550.75" width="3.95" height="1.58" fill="#7dcaa0"/>
<rect x="366.74" y="533.52" width="3.95" height="17.22" fill="#9ba3ab"/>
<rect x="366.74" y="533.19" width="3.95" height="0.33" fill="#e8a838"/>
<rect x="366.74" y="522.15" width="3.95" height="11.04" fill="#22a762"/>
<rect x="372.82" y="556.77" width="3.95" height="7.33" fill="#8c641a"/>
<rect x="372.82" y="556.42" width="3.95" height="0.35" fill="#a0c0fa"/>
<rect x="372.82" y="553.51" width="3.95" height="2.91" fill="#6495ed"/>
<rect x="372.82" y="550.75" width="3.95" height="2.76" fill="#5a08a8"/>
<rect x="372.82" y="549.92" width="3.95" height="0.83" fill="#fb4e4e"/>
<rect x="372.82" y="547.74" width="3.95" height="2.18" fill="#7dcaa0"/>
<rect x="372.82" y="528.02" width="3.95" height="19.71" fill="#9ba3ab"/>
<rect x="372.82" y="527.67" width="3.95" height="0.35" fill="#e8a838"/>
<rect x="372.82" y="513.63" width="3.95" height="14.05" fill="#22a762"/>
<rect x="378.90" y="555.76" width="3.95" height="8.34" fill="#8c641a"/>
<rect x="378.90" y="555.41" width="3.95" height="0.35" fill="#a0c0fa"/>
<rect x="378.90" y="550.24" width="3.95" height="5.17" fill="#6495ed"/>
<rect x="378.90" y="547.74" width="3.95" height="2.51" fill="#5a08a8"/>
<rect x="378.90" y="546.98" width="3.95" height="0.75" fill="#fb4e4e"/>
<rect x="378.90" y="544.23" width="3.95" height="2.76" fill="#7dcaa0"/>
<rect x="378.90" y="516.77" width="3.95" height="27.45" fill="#9ba3ab"/>
<rect x="378.90" y="516.38" width="3.95" height="0.39" fill="#e8a838"/>
<rect x="378.90" y="496.32" width="3.95" height="20.07" fill="#22a762"/>
<rect x="384.98" y="557.77" width="3.95" height="6.33" fill="#8c641a"/>
<rect x="384.98" y="557.42" width="3.95" height="0.35" fill="#a0c0fa"/>
<rect x="384.98" y="553.76" width="3.95" height="3.66" fill="#6495ed"/>
<rect x="384.98" y="551.75" width="3.95" height="2.01" fill="#5a08a8"/>
<rect x="384.98" y="551.15" width="3.95" height="0.60" fill="#fb4e4e"/>
<rect x="384.98" y="548.74" width="3.95" height="2.41" fill="#7dcaa0"/>
<rect x="384.98" y="528.52" width="3.95" height="20.22" fill="#9ba3ab"/>
<rect x="384.98" y="528.17" width="3.95" height="0.35" fill="#e8a838"/>
<rect x="384.98" y="514.63" width="3.95" height="13.54" fill="#22a762"/>
<rect x="391.05" y="557.77" width="3.95" height="6.33" fill="#8c641a"/>
<rect x="391.05" y="557.42" width="3.95" height="0.35" fill="#a0c0fa"/>
<rect x="391.05" y="552.75" width="3.95" height="4.67" fill="#6495ed"/>
<rect x="391.05" y="550.24" width="3.95" height="2.51" fill="#5a08a8"/>
<rect x="391.05" y="549.49" width="3.95" height="0.75" fill="#fb4e4e"/>
<rect x="391.05" y="547.74" width="3.95" height="1.76" fill="#7dcaa0"/>
<rect x="391.05" y="527.77" width="3.95" height="19.97" fill="#9ba3ab"/>
<rect x="391.05" y="527.42" width="3.95" height="0.35" fill="#e8a838"/>
<rect x="391.05" y="514.13" width="3.95" height="13.29" fill="#22a762"/>
<rect x="397.13" y="548.74" width="3.95" height="15.36" fill="#8c641a"/>
<rect x="397.13" y="548.39" width="3.95" height="0.35" fill="#a0c0fa"/>
<rect x="397.13" y="539.71" width="3.95" height="8.68" fill="#6495ed"/>
<rect x="397.13" y="534.69" width="3.95" height="5.02" fill="#5a08a8"/>
<rect x="397.13" y="533.19" width="3.95" height="1.50" fill="#fb4e4e"/>
<rect x="397.13" y="529.18" width="3.95" height="4.01" fill="#7dcaa0"/>
<rect x="397.13" y="485.75" width="3.95" height="43.42" fill="#9ba3ab"/>
<rect x="397.13" y="485.28" width="3.95" height="0.47" fill="#e8a838"/>
<rect x="397.13" y="454.43" width="3.95" height="30.85" fill="#22a762"/>
<rect x="403.21" y="556.77" width="3.95" height="7.33" fill="#8c641a"/>
<rect x="403.21" y="556.42" width="3.95" height="0.35" fill="#a0c0fa"/>
<rect x="403.21" y="552.75" width="3.95" height="3.66" fill="#6495ed"/>
<rect x="403.21" y="550.50" width="3.95" height="2.26" fill="#5a08a8"/>
<rect x="403.21" y="549.82" width="3.95" height="0.68" fill="#fb4e4e"/>
<rect x="403.21" y="548.24" width="3.95" height="1.58" fill="#7dcaa0"/>
<rect x="403.21" y="526.52" width="3.95" height="21.71" fill="#9ba3ab"/>
<rect x="403.21" y="526.17" width="3.95" height="0.36" fill="#e8a838"/>
<rect x="403.21" y="510.62" width="3.95" height="15.55" fill="#22a762"/>
<rect x="409.29" y="551.75" width="3.95" height="12.35" fill="#8c641a"/>
<rect x="409.29" y="551.40" width="3.95" height="0.35" fill="#a0c0fa"/>
<rect x="409.29" y="544.73" width="3.95" height="6.67" fill="#6495ed"/>
<rect x="409.29" y="541.72" width="3.95" height="3.01" fill="#5a08a8"/>
<rect x="409.29" y="540.81" width="3.95" height="0.90" fill="#fb4e4e"/>
<rect x="409.29" y="538.21" width="3.95" height="2.61" fill="#7dcaa0"/>
<rect x="409.29" y="510.27" width="3.95" height="27.93" fill="#9ba3ab"/>
<rect x="409.29" y="509.86" width="3.95" height="0.41" fill="#e8a838"/>
<rect x="409.29" y="484.53" width="3.95" height="25.33" fill="#22a762"/>
<rect x="415.37" y="550.75" width="3.95" height="13.35" fill="#8c641a"/>
<rect x="415.37" y="550.40" width="3.95" height="0.35" fill="#a0c0fa"/>
<rect x="415.37" y="544.23" width="3.95" height="6.17" fill="#6495ed"/>
<rect x="415.37" y="540.96" width="3.95" height="3.26" fill="#5a08a8"/>
<rect x="415.37" y="539.99" width="3.95" height="0.98" fill="#fb4e4e"/>
<rect x="415.37" y="537.45" width="3.95" height="2.53" fill="#7dcaa0"/>
<rect x="415.37" y="510.27" width="3.95" height="27.19" fill="#9ba3ab"/>
<rect x="415.37" y="509.86" width="3.95" height="0.40" fill="#e8a838"/>
<rect x="415.37" y="488.29" width="3.95" height="21.57" fill="#22a762"/>
<rect x="421.44" y="545.73" width="3.95" height="18.37" fill="#8c641a"/>
<rect x="421.44" y="545.38" width="3.95" height="0.35" fill="#a0c0fa"/>
<rect x="421.44" y="535.95" width="3.95" height="9.43" fill="#6495ed"/>
<rect x="421.44" y="530.68" width="3.95" height="5.27" fill="#5a08a8"/>
<rect x="421.44" y="529.10" width="3.95" height="1.58" fill="#fb4e4e"/>
<rect x="421.44" y="525.41" width="3.95" height="3.69" fill="#7dcaa0"/>
<rect x="421.44" y="482.75" width="3.95" height="42.66" fill="#9ba3ab"/>
<rect x="421.44" y="482.27" width="3.95" height="0.48" fill="#e8a838"/>
<rect x="421.44" y="450.17" width="3.95" height="32.10" fill="#22a762"/>
<rect x="427.52" y="552.75" width="3.95" height="11.35" fill="#8c641a"/>
<rect x="427.52" y="552.40" width="3.95" height="0.35" fill="#a0c0fa"/>
<rect x="427.52" y="546.73" width="3.95" height="5.67" fill="#6495ed"/>
<rect x="427.52" y="543.72" width="3.95" height="3.01" fill="#5a08a8"/>
<rect x="427.52" y="542.82" width="3.95" height="0.90" fill="#fb4e4e"/>
<rect x="427.52" y="541.22" width="3.95" height="1.61" fill="#7dcaa0"/>
<rect x="427.52" y="514.27" width="3.95" height="26.95" fill="#9ba3ab"/>
<rect x="427.52" y="513.88" width="3.95" height="0.39" fill="#e8a838"/>
<rect x="427.52" y="494.56" width="3.95" height="19.31" fill="#22a762"/>
<rect x="433.60" y="550.75" width="3.95" height="13.35" fill="#8c641a"/>
<rect x="433.60" y="550.40" width="3.95" height="0.35" fill="#a0c0fa"/>
<rect x="433.60" y="544.73" width="3.95" height="5.67" fill="#6495ed"/>
<rect x="433.60" y="541.72" width="3.95" height="3.01" fill="#5a08a8"/>
<rect x="433.60" y="540.81" width="3.95" height="0.90" fill="#fb4e4e"/>
<rect x="433.60" y="539.21" width="3.95" height="1.61" fill="#7dcaa0"/>
<rect x="433.60" y="510.51" width="3.95" height="28.70" fill="#9ba3ab"/>
<rect x="433.60" y="510.11" width="3.95" height="0.40" fill="#e8a838"/>
<rect x="433.60" y="490.30" width="3.95" height="19.81" fill="#22a762"/>
<rect x="439.68" y="544.98" width="3.95" height="19.12" fill="#8c641a"/>
<rect x="439.68" y="544.63" width="3.95" height="0.35" fill="#a0c0fa"/>
<rect x="439.68" y="534.69" width="3.95" height="9.93" fill="#6495ed"/>
<rect x="439.68" y="530.68" width="3.95" height="4.01" fill="#5a08a8"/>
<rect x="439.68" y="529.48" width="3.95" height="1.20" fill="#fb4e4e"/>
<rect x="439.68" y="526.17" width="3.95" height="3.31" fill="#7dcaa0"/>
<rect x="439.68" y="486.76" width="3.95" height="39.41" fill="#9ba3ab"/>
<rect x="439.68" y="486.29" width="3.95" height="0.47" fill="#e8a838"/>
<rect x="439.68" y="453.18" width="3.95" height="33.11" fill="#22a762"/>
<rect x="445.75" y="553.76" width="3.95" height="10.34" fill="#8c641a"/>
<rect x="445.75" y="553.41" width="3.95" height="0.35" fill="#a0c0fa"/>
<rect x="445.75" y="548.24" width="3.95" height="5.17" fill="#6495ed"/>
<rect x="445.75" y="545.73" width="3.95" height="2.51" fill="#5a08a8"/>
<rect x="445.75" y="544.98" width="3.95" height="0.75" fill="#fb4e4e"/>
<rect x="445.75" y="542.72" width="3.95" height="2.26" fill="#7dcaa0"/>
<rect x="445.75" y="519.77" width="3.95" height="22.96" fill="#9ba3ab"/>
<rect x="445.75" y="519.39" width="3.95" height="0.37" fill="#e8a838"/>
<rect x="445.75" y="503.84" width="3.95" height="15.55" fill="#22a762"/>
<rect x="451.83" y="549.74" width="3.95" height="14.36" fill="#8c641a"/>
<rect x="451.83" y="549.39" width="3.95" height="0.35" fill="#a0c0fa"/>
<rect x="451.83" y="542.72" width="3.95" height="6.67" fill="#6495ed"/>
<rect x="451.83" y="539.71" width="3.95" height="3.01" fill="#5a08a8"/>
<rect x="451.83" y="538.81" width="3.95" height="0.90" fill="#fb4e4e"/>
<rect x="451.83" y="535.45" width="3.95" height="3.36" fill="#7dcaa0"/>
<rect x="451.83" y="505.01" width="3.95" height="30.44" fill="#9ba3ab"/>
<rect x="451.83" y="504.60" width="3.95" height="0.41" fill="#e8a838"/>
<rect x="451.83" y="482.52" width="3.95" height="22.07" fill="#22a762"/>
<rect x="457.91" y="551.75" width="3.95" height="12.35" fill="#8c641a"/>
<rect x="457.91" y="551.40" width="3.95" height="0.35" fill="#a0c0fa"/>
<rect x="457.91" y="544.73" width="3.95" height="6.67" fill="#6495ed"/>
<rect x="457.91" y="542.22" width="3.95" height="2.51" fill="#5a08a8"/>
<rect x="457.91" y="541.47" width="3.95" height="0.75" fill="#fb4e4e"/>
<rect x="457.91" y="539.21" width="3.95" height="2.26" fill="#7dcaa0"/>
<rect x="457.91" y="509.51" width="3.95" height="29.70" fill="#9ba3ab"/>
<rect x="457.91" y="509.11" width="3.95" height="0.40" fill="#e8a838"/>
<rect x="457.91" y="488.80" width="3.95" height="20.32" fill="#22a762"/>
<rect x="463.99" y="549.99" width="3.95" height="14.11" fill="#8c641a"/>
<rect x="463.99" y="549.64" width="3.95" height="0.35" fill="#a0c0fa"/>
<rect x="463.99" y="542.72" width="3.95" height="6.92" fill="#6495ed"/>
<rect x="463.99" y="539.96" width="3.95" height="2.76" fill="#5a08a8"/>
<rect x="463.99" y="539.13" width="3.95" height="0.83" fill="#fb4e4e"/>
<rect x="463.99" y="536.20" width="3.95" height="2.93" fill="#7dcaa0"/>
<rect x="463.99" y="503.51" width="3.95" height="32.69" fill="#9ba3ab"/>
<rect x="463.99" y="503.09" width="3.95" height="0.42" fill="#e8a838"/>
<rect x="463.99" y="481.27" width="3.95" height="21.82" fill="#22a762"/>
<rect x="470.07" y="552.75" width="3.95" height="11.35" fill="#8c641a"/>
<rect x="470.07" y="552.40" width="3.95" height="0.35" fill="#a0c0fa"/>
<rect x="470.07" y="546.73" width="3.95" height="5.67" fill="#6495ed"/>
<rect x="470.07" y="543.72" width="3.95" height="3.01" fill="#5a08a8"/>
<rect x="470.07" y="542.82" width="3.95" height="0.90" fill="#fb4e4e"/>
<rect x="470.07" y="540.71" width="3.95" height="2.11" fill="#7dcaa0"/>
<rect x="470.07" y="513.51" width="3.95" height="27.20" fill="#9ba3ab"/>
<rect x="470.07" y="513.12" width="3.95" height="0.39" fill="#e8a838"/>
<rect x="470.07" y="496.32" width="3.95" height="16.80" fill="#22a762"/>
<rect x="476.14" y="539.71" width="3.95" height="24.39" fill="#8c641a"/>
<rect x="476.14" y="539.36" width="3.95" height="0.35" fill="#a0c0fa"/>
<rect x="476.14" y="526.92" width="3.95" height="12.44" fill="#6495ed"/>
<rect x="476.14" y="520.65" width="3.95" height="6.27" fill="#5a08a8"/>
<rect x="476.14" y="518.77" width="3.95" height="1.88" fill="#fb4e4e"/>
<rect x="476.14" y="516.38" width="3.95" height="2.38" fill="#7dcaa0"/>
<rect x="476.14" y="458.24" width="3.95" height="58.15" fill="#9ba3ab"/>
<rect x="476.14" y="457.69" width="3.95" height="0.54" fill="#e8a838"/>
<rect x="476.14" y="417.70" width="3.95" height="39.99" fill="#22a762"/>
<rect x="482.22" y="535.45" width="3.95" height="28.65" fill="#8c641a"/>
<rect x="482.22" y="535.10" width="3.95" height="0.35" fill="#a0c0fa"/>
<rect x="482.22" y="520.65" width="3.95" height="14.45" fill="#6495ed"/>
<rect x="482.22" y="514.63" width="3.95" height="6.02" fill="#5a08a8"/>
<rect x="482.22" y="512.82" width="3.95" height="1.81" fill="#fb4e4e"/>
<rect x="482.22" y="507.86" width="3.95" height="4.97" fill="#7dcaa0"/>
<rect x="482.22" y="431.22" width="3.95" height="76.64" fill="#9ba3ab"/>
<rect x="482.22" y="430.61" width="3.95" height="0.61" fill="#e8a838"/>
<rect x="482.22" y="382.00" width="3.95" height="48.61" fill="#22a762"/>
<rect x="488.30" y="551.75" width="3.95" height="12.35" fill="#8c641a"/>
<rect x="488.30" y="551.40" width="3.95" height="0.35" fill="#a0c0fa"/>
<rect x="488.30" y="544.73" width="3.95" height="6.67" fill="#6495ed"/>
<rect x="488.30" y="541.72" width="3.95" height="3.01" fill="#5a08a8"/>
<rect x="488.30" y="540.81" width="3.95" height="0.90" fill="#fb4e4e"/>
<rect x="488.30" y="538.21" width="3.95" height="2.61" fill="#7dcaa0"/>
<rect x="488.30" y="504.50" width="3.95" height="33.70" fill="#9ba3ab"/>
<rect x="488.30" y="504.09" width="3.95" height="0.41" fill="#e8a838"/>
<rect x="488.30" y="484.28" width="3.95" height="19.81" fill="#22a762"/>
<rect x="494.38" y="555.76" width="3.95" height="8.34" fill="#8c641a"/>
<rect x="494.38" y="555.41" width="3.95" height="0.35" fill="#a0c0fa"/>
<rect x="494.38" y="550.75" width="3.95" height="4.67" fill="#6495ed"/>
<rect x="494.38" y="548.74" width="3.95" height="2.01" fill="#5a08a8"/>
<rect x="494.38" y="548.14" width="3.95" height="0.60" fill="#fb4e4e"/>
<rect x="494.38" y="545.73" width="3.95" height="2.41" fill="#7dcaa0"/>
<rect x="494.38" y="525.51" width="3.95" height="20.22" fill="#9ba3ab"/>
<rect x="494.38" y="525.16" width="3.95" height="0.35" fill="#e8a838"/>
<rect x="494.38" y="514.88" width="3.95" height="10.28" fill="#22a762"/>
<rect x="500.46" y="552.75" width="3.95" height="11.35" fill="#8c641a"/>
<rect x="500.46" y="552.40" width="3.95" height="0.35" fill="#a0c0fa"/>
<rect x="500.46" y="545.73" width="3.95" height="6.67" fill="#6495ed"/>
<rect x="500.46" y="542.72" width="3.95" height="3.01" fill="#5a08a8"/>
<rect x="500.46" y="541.82" width="3.95" height="0.90" fill="#fb4e4e"/>
<rect x="500.46" y="538.96" width="3.95" height="2.86" fill="#7dcaa0"/>
<rect x="500.46" y="506.50" width="3.95" height="32.46" fill="#9ba3ab"/>
<rect x="500.46" y="506.10" width="3.95" height="0.40" fill="#e8a838"/>
<rect x="500.46" y="489.05" width="3.95" height="17.06" fill="#22a762"/>
<rect x="506.54" y="549.74" width="3.95" height="14.36" fill="#8c641a"/>
<rect x="506.54" y="549.39" width="3.95" height="0.35" fill="#a0c0fa"/>
<rect x="506.54" y="540.71" width="3.95" height="8.68" fill="#6495ed"/>
<rect x="506.54" y="536.70" width="3.95" height="4.01" fill="#5a08a8"/>
<rect x="506.54" y="535.50" width="3.95" height="1.20" fill="#fb4e4e"/>
<rect x="506.54" y="532.69" width="3.95" height="2.81" fill="#7dcaa0"/>
<rect x="506.54" y="488.74" width="3.95" height="43.95" fill="#9ba3ab"/>
<rect x="506.54" y="488.29" width="3.95" height="0.45" fill="#e8a838"/>
<rect x="506.54" y="464.47" width="3.95" height="23.83" fill="#22a762"/>
<rect x="512.61" y="552.75" width="3.95" height="11.35" fill="#8c641a"/>
<rect x="512.61" y="552.40" width="3.95" height="0.35" fill="#a0c0fa"/>
<rect x="512.61" y="545.23" width="3.95" height="7.17" fill="#6495ed"/>
<rect x="512.61" y="542.72" width="3.95" height="2.51" fill="#5a08a8"/>
<rect x="512.61" y="541.97" width="3.95" height="0.75" fill="#fb4e4e"/>
<rect x="512.61" y="539.96" width="3.95" height="2.01" fill="#7dcaa0"/>
<rect x="512.61" y="506.76" width="3.95" height="33.21" fill="#9ba3ab"/>
<rect x="512.61" y="506.35" width="3.95" height="0.40" fill="#e8a838"/>
<rect x="512.61" y="487.29" width="3.95" height="19.06" fill="#22a762"/>
<rect x="518.69" y="552.00" width="3.95" height="12.10" fill="#8c641a"/>
<rect x="518.69" y="551.65" width="3.95" height="0.35" fill="#a0c0fa"/>
<rect x="518.69" y="542.72" width="3.95" height="8.93" fill="#6495ed"/>
<rect x="518.69" y="539.71" width="3.95" height="3.01" fill="#5a08a8"/>
<rect x="518.69" y="538.81" width="3.95" height="0.90" fill="#fb4e4e"/>
<rect x="518.69" y="536.70" width="3.95" height="2.11" fill="#7dcaa0"/>
<rect x="518.69" y="501.51" width="3.95" height="35.19" fill="#9ba3ab"/>
<rect x="518.69" y="501.09" width="3.95" height="0.42" fill="#e8a838"/>
<rect x="518.69" y="478.01" width="3.95" height="23.07" fill="#22a762"/>
<rect x="524.77" y="548.24" width="3.95" height="15.86" fill="#8c641a"/>
<rect x="524.77" y="547.89" width="3.95" height="0.35" fill="#a0c0fa"/>
<rect x="524.77" y="535.70" width="3.95" height="12.19" fill="#6495ed"/>
<rect x="524.77" y="531.68" width="3.95" height="4.01" fill="#5a08a8"/>
<rect x="524.77" y="530.48" width="3.95" height="1.20" fill="#fb4e4e"/>
<rect x="524.77" y="526.67" width="3.95" height="3.81" fill="#7dcaa0"/>
<rect x="524.77" y="480.25" width="3.95" height="46.42" fill="#9ba3ab"/>
<rect x="524.77" y="479.77" width="3.95" height="0.49" fill="#e8a838"/>
<rect x="524.77" y="445.40" width="3.95" height="34.36" fill="#22a762"/>
<rect x="530.85" y="552.75" width="3.95" height="11.35" fill="#8c641a"/>
<rect x="530.85" y="552.40" width="3.95" height="0.35" fill="#a0c0fa"/>
<rect x="530.85" y="544.73" width="3.95" height="7.68" fill="#6495ed"/>
<rect x="530.85" y="541.72" width="3.95" height="3.01" fill="#5a08a8"/>
<rect x="530.85" y="540.81" width="3.95" height="0.90" fill="#fb4e4e"/>
<rect x="530.85" y="538.21" width="3.95" height="2.61" fill="#7dcaa0"/>
<rect x="530.85" y="505.51" width="3.95" height="32.70" fill="#9ba3ab"/>
<rect x="530.85" y="505.10" width="3.95" height="0.41" fill="#e8a838"/>
<rect x="530.85" y="483.53" width="3.95" height="21.57" fill="#22a762"/>
<rect x="536.92" y="554.76" width="3.95" height="9.34" fill="#8c641a"/>
<rect x="536.92" y="554.41" width="3.95" height="0.35" fill="#a0c0fa"/>
<rect x="536.92" y="548.24" width="3.95" height="6.17" fill="#6495ed"/>
<rect x="536.92" y="546.23" width="3.95" height="2.01" fill="#5a08a8"/>
<rect x="536.92" y="545.63" width="3.95" height="0.60" fill="#fb4e4e"/>
<rect x="536.92" y="543.22" width="3.95" height="2.41" fill="#7dcaa0"/>
<rect x="536.92" y="516.26" width="3.95" height="26.96" fill="#9ba3ab"/>
<rect x="536.92" y="515.88" width="3.95" height="0.38" fill="#e8a838"/>
<rect x="536.92" y="500.33" width="3.95" height="15.55" fill="#22a762"/>
<rect x="543.00" y="546.48" width="3.95" height="17.62" fill="#8c641a"/>
<rect x="543.00" y="546.13" width="3.95" height="0.35" fill="#a0c0fa"/>
<rect x="543.00" y="534.69" width="3.95" height="11.44" fill="#6495ed"/>
<rect x="543.00" y="529.18" width="3.95" height="5.52" fill="#5a08a8"/>
<rect x="543.00" y="527.52" width="3.95" height="1.66" fill="#fb4e4e"/>
<rect x="543.00" y="521.40" width="3.95" height="6.12" fill="#7dcaa0"/>
<rect x="543.00" y="461.97" width="3.95" height="59.43" fill="#9ba3ab"/>
<rect x="543.00" y="461.46" width="3.95" height="0.52" fill="#e8a838"/>
<rect x="543.00" y="430.61" width="3.95" height="30.85" fill="#22a762"/>
<rect x="549.08" y="550.75" width="3.95" height="13.35" fill="#8c641a"/>
<rect x="549.08" y="550.40" width="3.95" height="0.35" fill="#a0c0fa"/>
<rect x="549.08" y="544.23" width="3.95" height="6.17" fill="#6495ed"/>
<rect x="549.08" y="540.71" width="3.95" height="3.51" fill="#5a08a8"/>
<rect x="549.08" y="539.66" width="3.95" height="1.05" fill="#fb4e4e"/>
<rect x="549.08" y="536.70" width="3.95" height="2.96" fill="#7dcaa0"/>
<rect x="549.08" y="493.75" width="3.95" height="42.95" fill="#9ba3ab"/>
<rect x="549.08" y="493.31" width="3.95" height="0.44" fill="#e8a838"/>
<rect x="549.08" y="470.23" width="3.95" height="23.07" fill="#22a762"/>
<rect x="555.16" y="556.77" width="3.95" height="7.33" fill="#8c641a"/>
<rect x="555.16" y="556.42" width="3.95" height="0.35" fill="#a0c0fa"/>
<rect x="555.16" y="552.75" width="3.95" height="3.66" fill="#6495ed"/>
<rect x="555.16" y="551.25" width="3.95" height="1.50" fill="#5a08a8"/>
<rect x="555.16" y="550.80" width="3.95" height="0.45" fill="#fb4e4e"/>
<rect x="555.16" y="548.74" width="3.95" height="2.06" fill="#7dcaa0"/>
<rect x="555.16" y="527.02" width="3.95" height="21.72" fill="#9ba3ab"/>
<rect x="555.16" y="526.67" width="3.95" height="0.35" fill="#e8a838"/>
<rect x="555.16" y="514.13" width="3.95" height="12.54" fill="#22a762"/>
<rect x="561.24" y="555.76" width="3.95" height="8.34" fill="#8c641a"/>
<rect x="561.24" y="555.41" width="3.95" height="0.35" fill="#a0c0fa"/>
<rect x="561.24" y="550.24" width="3.95" height="5.17" fill="#6495ed"/>
<rect x="561.24" y="548.24" width="3.95" height="2.01" fill="#5a08a8"/>
<rect x="561.24" y="547.64" width="3.95" height="0.60" fill="#fb4e4e"/>
<rect x="561.24" y="545.23" width="3.95" height="2.41" fill="#7dcaa0"/>
<rect x="561.24" y="523.27" width="3.95" height="21.96" fill="#9ba3ab"/>
<rect x="561.24" y="522.91" width="3.95" height="0.36" fill="#e8a838"/>
<rect x="561.24" y="508.36" width="3.95" height="14.55" fill="#22a762"/>
<rect x="567.31" y="552.50" width="3.95" height="11.60" fill="#8c641a"/>
<rect x="567.31" y="552.15" width="3.95" height="0.35" fill="#a0c0fa"/>
<rect x="567.31" y="543.72" width="3.95" height="8.43" fill="#6495ed"/>
<rect x="567.31" y="540.71" width="3.95" height="3.01" fill="#5a08a8"/>
<rect x="567.31" y="539.81" width="3.95" height="0.90" fill="#fb4e4e"/>
<rect x="567.31" y="537.20" width="3.95" height="2.61" fill="#7dcaa0"/>
<rect x="567.31" y="502.51" width="3.95" height="34.69" fill="#9ba3ab"/>
<rect x="567.31" y="502.09" width="3.95" height="0.42" fill="#e8a838"/>
<rect x="567.31" y="479.26" width="3.95" height="22.82" fill="#22a762"/>
<rect x="573.39" y="555.76" width="3.95" height="8.34" fill="#8c641a"/>
<rect x="573.39" y="555.41" width="3.95" height="0.35" fill="#a0c0fa"/>
<rect x="573.39" y="549.49" width="3.95" height="5.92" fill="#6495ed"/>
<rect x="573.39" y="547.24" width="3.95" height="2.26" fill="#5a08a8"/>
<rect x="573.39" y="546.56" width="3.95" height="0.68" fill="#fb4e4e"/>
<rect x="573.39" y="544.23" width="3.95" height="2.33" fill="#7dcaa0"/>
<rect x="573.39" y="519.02" width="3.95" height="25.21" fill="#9ba3ab"/>
<rect x="573.39" y="518.64" width="3.95" height="0.37" fill="#e8a838"/>
<rect x="573.39" y="502.09" width="3.95" height="16.55" fill="#22a762"/>
<rect x="579.47" y="557.27" width="3.95" height="6.83" fill="#8c641a"/>
<rect x="579.47" y="556.92" width="3.95" height="0.35" fill="#a0c0fa"/>
<rect x="579.47" y="552.00" width="3.95" height="4.92" fill="#6495ed"/>
<rect x="579.47" y="550.24" width="3.95" height="1.76" fill="#5a08a8"/>
<rect x="579.47" y="549.72" width="3.95" height="0.53" fill="#fb4e4e"/>
<rect x="579.47" y="547.74" width="3.95" height="1.98" fill="#7dcaa0"/>
<rect x="579.47" y="526.52" width="3.95" height="21.22" fill="#9ba3ab"/>
<rect x="579.47" y="526.17" width="3.95" height="0.35" fill="#e8a838"/>
<rect x="579.47" y="511.62" width="3.95" height="14.55" fill="#22a762"/>
<rect x="585.55" y="557.27" width="3.95" height="6.83" fill="#8c641a"/>
<rect x="585.55" y="556.92" width="3.95" height="0.35" fill="#a0c0fa"/>
<rect x="585.55" y="551.75" width="3.95" height="5.17" fill="#6495ed"/>
<rect x="585.55" y="549.74" width="3.95" height="2.01" fill="#5a08a8"/>
<rect x="585.55" y="549.14" width="3.95" height="0.60" fill="#fb4e4e"/>
<rect x="585.55" y="547.24" width="3.95" height="1.91" fill="#7dcaa0"/>
<rect x="585.55" y="527.52" width="3.95" height="19.71" fill="#9ba3ab"/>
<rect x="585.55" y="527.17" width="3.95" height="0.35" fill="#e8a838"/>
<rect x="585.55" y="512.12" width="3.95" height="15.05" fill="#22a762"/>
<rect x="591.63" y="553.76" width="3.95" height="10.34" fill="#8c641a"/>
<rect x="591.63" y="553.41" width="3.95" height="0.35" fill="#a0c0fa"/>
<rect x="591.63" y="546.73" width="3.95" height="6.67" fill="#6495ed"/>
<rect x="591.63" y="543.72" width="3.95" height="3.01" fill="#5a08a8"/>
<rect x="591.63" y="542.82" width="3.95" height="0.90" fill="#fb4e4e"/>
<rect x="591.63" y="541.22" width="3.95" height="1.61" fill="#7dcaa0"/>
<rect x="591.63" y="511.52" width="3.95" height="29.70" fill="#9ba3ab"/>
<rect x="591.63" y="511.12" width="3.95" height="0.40" fill="#e8a838"/>
<rect x="591.63" y="490.30" width="3.95" height="20.82" fill="#22a762"/>
<rect x="597.70" y="555.76" width="3.95" height="8.34" fill="#8c641a"/>
<rect x="597.70" y="555.41" width="3.95" height="0.35" fill="#a0c0fa"/>
<rect x="597.70" y="551.25" width="3.95" height="4.16" fill="#6495ed"/>
<rect x="597.70" y="549.24" width="3.95" height="2.01" fill="#5a08a8"/>
<rect x="597.70" y="548.64" width="3.95" height="0.60" fill="#fb4e4e"/>
<rect x="597.70" y="547.24" width="3.95" height="1.40" fill="#7dcaa0"/>
<rect x="597.70" y="520.52" width="3.95" height="26.72" fill="#9ba3ab"/>
<rect x="597.70" y="520.15" width="3.95" height="0.37" fill="#e8a838"/>
<rect x="597.70" y="503.84" width="3.95" height="16.30" fill="#22a762"/>
<rect x="603.78" y="555.76" width="3.95" height="8.34" fill="#8c641a"/>
<rect x="603.78" y="555.41" width="3.95" height="0.35" fill="#a0c0fa"/>
<rect x="603.78" y="549.24" width="3.95" height="6.17" fill="#6495ed"/>
<rect x="603.78" y="547.24" width="3.95" height="2.01" fill="#5a08a8"/>
<rect x="603.78" y="546.63" width="3.95" height="0.60" fill="#fb4e4e"/>
<rect x="603.78" y="544.73" width="3.95" height="1.91" fill="#7dcaa0"/>
<rect x="603.78" y="520.52" width="3.95" height="24.21" fill="#9ba3ab"/>
<rect x="603.78" y="520.15" width="3.95" height="0.37" fill="#e8a838"/>
<rect x="603.78" y="504.35" width="3.95" height="15.80" fill="#22a762"/>
<rect x="609.86" y="552.75" width="3.95" height="11.35" fill="#8c641a"/>
<rect x="609.86" y="552.40" width="3.95" height="0.35" fill="#a0c0fa"/>
<rect x="609.86" y="545.23" width="3.95" height="7.17" fill="#6495ed"/>
<rect x="609.86" y="542.72" width="3.95" height="2.51" fill="#5a08a8"/>
<rect x="609.86" y="541.97" width="3.95" height="0.75" fill="#fb4e4e"/>
<rect x="609.86" y="540.21" width="3.95" height="1.76" fill="#7dcaa0"/>
<rect x="609.86" y="506.51" width="3.95" height="33.71" fill="#9ba3ab"/>
<rect x="609.86" y="506.10" width="3.95" height="0.41" fill="#e8a838"/>
<rect x="609.86" y="486.29" width="3.95" height="19.81" fill="#22a762"/>
<rect x="615.94" y="555.26" width="3.95" height="8.84" fill="#8c641a"/>
<rect x="615.94" y="554.91" width="3.95" height="0.35" fill="#a0c0fa"/>
<rect x="615.94" y="550.24" width="3.95" height="4.67" fill="#6495ed"/>
<rect x="615.94" y="548.49" width="3.95" height="1.76" fill="#5a08a8"/>
<rect x="615.94" y="547.96" width="3.95" height="0.53" fill="#fb4e4e"/>
<rect x="615.94" y="545.98" width="3.95" height="1.98" fill="#7dcaa0"/>
<rect x="615.94" y="520.26" width="3.95" height="25.72" fill="#9ba3ab"/>
<rect x="615.94" y="519.90" width="3.95" height="0.37" fill="#e8a838"/>
<rect x="615.94" y="505.35" width="3.95" height="14.55" fill="#22a762"/>
<rect x="622.02" y="556.77" width="3.95" height="7.33" fill="#8c641a"/>
<rect x="622.02" y="556.42" width="3.95" height="0.35" fill="#a0c0fa"/>
<rect x="622.02" y="553.51" width="3.95" height="2.91" fill="#6495ed"/>
<rect x="622.02" y="552.25" width="3.95" height="1.25" fill="#5a08a8"/>
<rect x="622.02" y="551.85" width="3.95" height="0.40" fill="#fb4e4e"/>
<rect x="622.02" y="550.75" width="3.95" height="1.10" fill="#7dcaa0"/>
<rect x="622.02" y="532.27" width="3.95" height="18.48" fill="#9ba3ab"/>
<rect x="622.02" y="531.94" width="3.95" height="0.33" fill="#e8a838"/>
<rect x="622.02" y="522.91" width="3.95" height="9.03" fill="#22a762"/>
<rect x="628.09" y="554.76" width="3.95" height="9.34" fill="#8c641a"/>
<rect x="628.09" y="554.41" width="3.95" height="0.35" fill="#a0c0fa"/>
<rect x="628.09" y="548.24" width="3.95" height="6.17" fill="#6495ed"/>
<rect x="628.09" y="546.23" width="3.95" height="2.01" fill="#5a08a8"/>
<rect x="628.09" y="545.63" width="3.95" height="0.60" fill="#fb4e4e"/>
<rect x="628.09" y="543.72" width="3.95" height="1.91" fill="#7dcaa0"/>
<rect x="628.09" y="517.51" width="3.95" height="26.21" fill="#9ba3ab"/>
<rect x="628.09" y="517.14" width="3.95" height="0.37" fill="#e8a838"/>
<rect x="628.09" y="502.59" width="3.95" height="14.55" fill="#22a762"/>
<rect x="634.17" y="557.77" width="3.95" height="6.33" fill="#8c641a"/>
<rect x="634.17" y="557.42" width="3.95" height="0.35" fill="#a0c0fa"/>
<rect x="634.17" y="553.76" width="3.95" height="3.66" fill="#6495ed"/>
<rect x="634.17" y="552.25" width="3.95" height="1.50" fill="#5a08a8"/>
<rect x="634.17" y="551.80" width="3.95" height="0.45" fill="#fb4e4e"/>
<rect x="634.17" y="550.24" width="3.95" height="1.56" fill="#7dcaa0"/>
<rect x="634.17" y="532.02" width="3.95" height="18.23" fill="#9ba3ab"/>
<rect x="634.17" y="531.68" width="3.95" height="0.33" fill="#e8a838"/>
<rect x="634.17" y="521.90" width="3.95" height="9.78" fill="#22a762"/>
<rect x="640.25" y="557.77" width="3.95" height="6.33" fill="#8c641a"/>
<rect x="640.25" y="557.42" width="3.95" height="0.35" fill="#a0c0fa"/>
<rect x="640.25" y="553.76" width="3.95" height="3.66" fill="#6495ed"/>
<rect x="640.25" y="552.25" width="3.95" height="1.50" fill="#5a08a8"/>
<rect x="640.25" y="551.80" width="3.95" height="0.45" fill="#fb4e4e"/>
<rect x="640.25" y="550.50" width="3.95" height="1.30" fill="#7dcaa0"/>
<rect x="640.25" y="532.02" width="3.95" height="18.48" fill="#9ba3ab"/>
<rect x="640.25" y="531.68" width="3.95" height="0.33" fill="#e8a838"/>
<rect x="640.25" y="521.90" width="3.95" height="9.78" fill="#22a762"/>
<rect x="646.33" y="557.77" width="3.95" height="6.33" fill="#8c641a"/>
<rect x="646.33" y="557.42" width="3.95" height="0.35" fill="#a0c0fa"/>
<rect x="646.33" y="553.76" width="3.95" height="3.66" fill="#6495ed"/>
<rect x="646.33" y="552.25" width="3.95" height="1.50" fill="#5a08a8"/>
<rect x="646.33" y="551.80" width="3.95" height="0.45" fill="#fb4e4e"/>
<rect x="646.33" y="550.75" width="3.95" height="1.05" fill="#7dcaa0"/>
<rect x="646.33" y="533.52" width="3.95" height="17.22" fill="#9ba3ab"/>
<rect x="646.33" y="533.19" width="3.95" height="0.33" fill="#e8a838"/>
<rect x="646.33" y="522.15" width="3.95" height="11.04" fill="#22a762"/>
<rect x="652.41" y="555.76" width="3.95" height="8.34" fill="#8c641a"/>
<rect x="652.41" y="555.41" width="3.95" height="0.35" fill="#a0c0fa"/>
<rect x="652.41" y="548.49" width="3.95" height="6.92" fill="#6495ed"/>
<rect x="652.41" y="546.73" width="3.95" height="1.76" fill="#5a08a8"/>
<rect x="652.41" y="546.21" width="3.95" height="0.53" fill="#fb4e4e"/>
<rect x="652.41" y="544.73" width="3.95" height="1.48" fill="#7dcaa0"/>
<rect x="652.41" y="518.52" width="3.95" height="26.21" fill="#9ba3ab"/>
<rect x="652.41" y="518.14" width="3.95" height="0.38" fill="#e8a838"/>
<rect x="652.41" y="499.33" width="3.95" height="18.81" fill="#22a762"/>
<rect x="658.49" y="554.76" width="3.95" height="9.34" fill="#8c641a"/>
<rect x="658.49" y="554.41" width="3.95" height="0.35" fill="#a0c0fa"/>
<rect x="658.49" y="548.24" width="3.95" height="6.17" fill="#6495ed"/>
<rect x="658.49" y="545.98" width="3.95" height="2.26" fill="#5a08a8"/>
<rect x="658.49" y="545.30" width="3.95" height="0.68" fill="#fb4e4e"/>
<rect x="658.49" y="543.72" width="3.95" height="1.58" fill="#7dcaa0"/>
<rect x="658.49" y="517.52" width="3.95" height="26.21" fill="#9ba3ab"/>
<rect x="658.49" y="517.14" width="3.95" height="0.38" fill="#e8a838"/>
<rect x="658.49" y="498.58" width="3.95" height="18.56" fill="#22a762"/>
<rect x="664.56" y="546.23" width="3.95" height="17.87" fill="#8c641a"/>
<rect x="664.56" y="545.88" width="3.95" height="0.35" fill="#a0c0fa"/>
<rect x="664.56" y="535.70" width="3.95" height="10.18" fill="#6495ed"/>
<rect x="664.56" y="531.94" width="3.95" height="3.76" fill="#5a08a8"/>
<rect x="664.56" y="530.81" width="3.95" height="1.13" fill="#fb4e4e"/>
<rect x="664.56" y="525.66" width="3.95" height="5.14" fill="#7dcaa0"/>
<rect x="664.56" y="481.75" width="3.95" height="43.92" fill="#9ba3ab"/>
<rect x="664.56" y="481.27" width="3.95" height="0.48" fill="#e8a838"/>
<rect x="664.56" y="449.67" width="3.95" height="31.60" fill="#22a762"/>
<rect x="670.64" y="548.74" width="3.95" height="15.36" fill="#8c641a"/>
<rect x="670.64" y="548.39" width="3.95" height="0.35" fill="#a0c0fa"/>
<rect x="670.64" y="541.72" width="3.95" height="6.67" fill="#6495ed"/>
<rect x="670.64" y="538.71" width="3.95" height="3.01" fill="#5a08a8"/>
<rect x="670.64" y="537.80" width="3.95" height="0.90" fill="#fb4e4e"/>
<rect x="670.64" y="535.20" width="3.95" height="2.61" fill="#7dcaa0"/>
<rect x="670.64" y="499.26" width="3.95" height="35.94" fill="#9ba3ab"/>
<rect x="670.64" y="498.83" width="3.95" height="0.43" fill="#e8a838"/>
<rect x="670.64" y="474.25" width="3.95" height="24.58" fill="#22a762"/>
<rect x="676.72" y="547.99" width="3.95" height="16.11" fill="#8c641a"/>
<rect x="676.72" y="547.64" width="3.95" height="0.35" fill="#a0c0fa"/>
<rect x="676.72" y="540.21" width="3.95" height="7.43" fill="#6495ed"/>
<rect x="676.72" y="536.70" width="3.95" height="3.51" fill="#5a08a8"/>
<rect x="676.72" y="535.65" width="3.95" height="1.05" fill="#fb4e4e"/>
<rect x="676.72" y="531.43" width="3.95" height="4.21" fill="#7dcaa0"/>
<rect x="676.72" y="488.76" width="3.95" height="42.68" fill="#9ba3ab"/>
<rect x="676.72" y="488.29" width="3.95" height="0.46" fill="#e8a838"/>
<rect x="676.72" y="458.20" width="3.95" height="30.10" fill="#22a762"/>
<rect x="682.80" y="549.24" width="3.95" height="14.86" fill="#8c641a"/>
<rect x="682.80" y="548.89" width="3.95" height="0.35" fill="#a0c0fa"/>
<rect x="682.80" y="538.71" width="3.95" height="10.18" fill="#6495ed"/>
<rect x="682.80" y="533.69" width="3.95" height="5.02" fill="#5a08a8"/>
<rect x="682.80" y="532.19" width="3.95" height="1.50" fill="#fb4e4e"/>
<rect x="682.80" y="528.67" width="3.95" height="3.51" fill="#7dcaa0"/>
<rect x="682.80" y="487.76" width="3.95" height="40.91" fill="#9ba3ab"/>
<rect x="682.80" y="487.29" width="3.95" height="0.47" fill="#e8a838"/>
<rect x="682.80" y="453.18" width="3.95" height="34.11" fill="#22a762"/>
<rect x="688.88" y="555.76" width="3.95" height="8.34" fill="#8c641a"/>
<rect x="688.88" y="555.41" width="3.95" height="0.35" fill="#a0c0fa"/>
<rect x="688.88" y="550.75" width="3.95" height="4.67" fill="#6495ed"/>
<rect x="688.88" y="549.24" width="3.95" height="1.50" fill="#5a08a8"/>
<rect x="688.88" y="548.79" width="3.95" height="0.45" fill="#fb4e4e"/>
<rect x="688.88" y="546.23" width="3.95" height="2.56" fill="#7dcaa0"/>
<rect x="688.88" y="523.52" width="3.95" height="22.71" fill="#9ba3ab"/>
<rect x="688.88" y="523.16" width="3.95" height="0.36" fill="#e8a838"/>
<rect x="688.88" y="508.11" width="3.95" height="15.05" fill="#22a762"/>
<rect x="694.95" y="551.75" width="3.95" height="12.35" fill="#8c641a"/>
<rect x="694.95" y="551.40" width="3.95" height="0.35" fill="#a0c0fa"/>
<rect x="694.95" y="544.73" width="3.95" height="6.67" fill="#6495ed"/>
<rect x="694.95" y="542.22" width="3.95" height="2.51" fill="#5a08a8"/>
<rect x="694.95" y="541.47" width="3.95" height="0.75" fill="#fb4e4e"/>
<rect x="694.95" y="538.71" width="3.95" height="2.76" fill="#7dcaa0"/>
<rect x="694.95" y="506.51" width="3.95" height="32.19" fill="#9ba3ab"/>
<rect x="694.95" y="506.10" width="3.95" height="0.41" fill="#e8a838"/>
<rect x="694.95" y="483.53" width="3.95" height="22.57" fill="#22a762"/>
<rect x="701.03" y="554.76" width="3.95" height="9.34" fill="#8c641a"/>
<rect x="701.03" y="554.41" width="3.95" height="0.35" fill="#a0c0fa"/>
<rect x="701.03" y="548.74" width="3.95" height="5.67" fill="#6495ed"/>
<rect x="701.03" y="546.73" width="3.95" height="2.01" fill="#5a08a8"/>
<rect x="701.03" y="546.13" width="3.95" height="0.60" fill="#fb4e4e"/>
<rect x="701.03" y="543.72" width="3.95" height="2.41" fill="#7dcaa0"/>
<rect x="701.03" y="514.27" width="3.95" height="29.46" fill="#9ba3ab"/>
<rect x="701.03" y="513.88" width="3.95" height="0.39" fill="#e8a838"/>
<rect x="701.03" y="494.31" width="3.95" height="19.56" fill="#22a762"/>
<rect x="707.11" y="557.77" width="3.95" height="6.33" fill="#8c641a"/>
<rect x="707.11" y="557.42" width="3.95" height="0.35" fill="#a0c0fa"/>
<rect x="707.11" y="553.76" width="3.95" height="3.66" fill="#6495ed"/>
<rect x="707.11" y="552.25" width="3.95" height="1.50" fill="#5a08a8"/>
<rect x="707.11" y="551.80" width="3.95" height="0.45" fill="#fb4e4e"/>
<rect x="707.11" y="550.24" width="3.95" height="1.56" fill="#7dcaa0"/>
<rect x="707.11" y="529.52" width="3.95" height="20.72" fill="#9ba3ab"/>
<rect x="707.11" y="529.18" width="3.95" height="0.35" fill="#e8a838"/>
<rect x="707.11" y="515.88" width="3.95" height="13.29" fill="#22a762"/>
<rect x="713.19" y="553.76" width="3.95" height="10.34" fill="#8c641a"/>
<rect x="713.19" y="553.41" width="3.95" height="0.35" fill="#a0c0fa"/>
<rect x="713.19" y="547.24" width="3.95" height="6.17" fill="#6495ed"/>
<rect x="713.19" y="545.23" width="3.95" height="2.01" fill="#5a08a8"/>
<rect x="713.19" y="544.63" width="3.95" height="0.60" fill="#fb4e4e"/>
<rect x="713.19" y="542.72" width="3.95" height="1.91" fill="#7dcaa0"/>
<rect x="713.19" y="511.77" width="3.95" height="30.95" fill="#9ba3ab"/>
<rect x="713.19" y="511.37" width="3.95" height="0.40" fill="#e8a838"/>
<rect x="713.19" y="487.29" width="3.95" height="24.08" fill="#22a762"/>
<rect x="719.26" y="557.77" width="3.95" height="6.33" fill="#8c641a"/>
<rect x="719.26" y="557.42" width="3.95" height="0.35" fill="#a0c0fa"/>
<rect x="719.26" y="552.75" width="3.95" height="4.67" fill="#6495ed"/>
<rect x="719.26" y="551.25" width="3.95" height="1.50" fill="#5a08a8"/>
<rect x="719.26" y="550.80" width="3.95" height="0.45" fill="#fb4e4e"/>
<rect x="719.26" y="549.24" width="3.95" height="1.56" fill="#7dcaa0"/>
<rect x="719.26" y="528.52" width="3.95" height="20.72" fill="#9ba3ab"/>
<rect x="719.26" y="528.17" width="3.95" height="0.35" fill="#e8a838"/>
<rect x="719.26" y="516.38" width="3.95" height="11.79" fill="#22a762"/>
<rect x="725.34" y="555.76" width="3.95" height="8.34" fill="#8c641a"/>
<rect x="725.34" y="555.41" width="3.95" height="0.35" fill="#a0c0fa"/>
<rect x="725.34" y="549.24" width="3.95" height="6.17" fill="#6495ed"/>
<rect x="725.34" y="547.74" width="3.95" height="1.50" fill="#5a08a8"/>
<rect x="725.34" y="547.29" width="3.95" height="0.45" fill="#fb4e4e"/>
<rect x="725.34" y="545.73" width="3.95" height="1.56" fill="#7dcaa0"/>
<rect x="725.34" y="520.52" width="3.95" height="25.21" fill="#9ba3ab"/>
<rect x="725.34" y="520.15" width="3.95" height="0.37" fill="#e8a838"/>
<rect x="725.34" y="504.09" width="3.95" height="16.05" fill="#22a762"/>
<rect x="731.42" y="555.76" width="3.95" height="8.34" fill="#8c641a"/>
<rect x="731.42" y="555.41" width="3.95" height="0.35" fill="#a0c0fa"/>
<rect x="731.42" y="549.24" width="3.95" height="6.17" fill="#6495ed"/>
<rect x="731.42" y="547.74" width="3.95" height="1.50" fill="#5a08a8"/>
<rect x="731.42" y="547.29" width="3.95" height="0.45" fill="#fb4e4e"/>
<rect x="731.42" y="545.73" width="3.95" height="1.56" fill="#7dcaa0"/>
<rect x="731.42" y="521.02" width="3.95" height="24.71" fill="#9ba3ab"/>
<rect x="731.42" y="520.65" width="3.95" height="0.37" fill="#e8a838"/>
<rect x="731.42" y="504.09" width="3.95" height="16.55" fill="#22a762"/>
<rect x="737.50" y="549.74" width="3.95" height="14.36" fill="#8c641a"/>
<rect x="737.50" y="549.39" width="3.95" height="0.35" fill="#a0c0fa"/>
<rect x="737.50" y="539.21" width="3.95" height="10.18" fill="#6495ed"/>
<rect x="737.50" y="535.70" width="3.95" height="3.51" fill="#5a08a8"/>
<rect x="737.50" y="534.64" width="3.95" height="1.05" fill="#fb4e4e"/>
<rect x="737.50" y="531.18" width="3.95" height="3.46" fill="#7dcaa0"/>
<rect x="737.50" y="484.51" width="3.95" height="46.68" fill="#9ba3ab"/>
<rect x="737.50" y="484.03" width="3.95" height="0.48" fill="#e8a838"/>
<rect x="737.50" y="450.42" width="3.95" height="33.61" fill="#22a762"/>
<rect x="743.58" y="556.77" width="3.95" height="7.33" fill="#8c641a"/>
<rect x="743.58" y="556.42" width="3.95" height="0.35" fill="#a0c0fa"/>
<rect x="743.58" y="551.75" width="3.95" height="4.67" fill="#6495ed"/>
<rect x="743.58" y="549.99" width="3.95" height="1.76" fill="#5a08a8"/>
<rect x="743.58" y="549.47" width="3.95" height="0.53" fill="#fb4e4e"/>
<rect x="743.58" y="547.74" width="3.95" height="1.73" fill="#7dcaa0"/>
<rect x="743.58" y="522.52" width="3.95" height="25.22" fill="#9ba3ab"/>
<rect x="743.58" y="522.15" width="3.95" height="0.36" fill="#e8a838"/>
<rect x="743.58" y="507.36" width="3.95" height="14.80" fill="#22a762"/>
<rect x="749.65" y="559.78" width="3.95" height="4.32" fill="#8c641a"/>
<rect x="749.65" y="559.43" width="3.95" height="0.35" fill="#a0c0fa"/>
<rect x="749.65" y="556.77" width="3.95" height="2.66" fill="#6495ed"/>
<rect x="749.65" y="555.76" width="3.95" height="1.00" fill="#5a08a8"/>
<rect x="749.65" y="555.36" width="3.95" height="0.40" fill="#fb4e4e"/>
<rect x="749.65" y="554.76" width="3.95" height="0.60" fill="#7dcaa0"/>
<rect x="749.65" y="540.52" width="3.95" height="14.24" fill="#9ba3ab"/>
<rect x="749.65" y="540.21" width="3.95" height="0.31" fill="#e8a838"/>
<rect x="749.65" y="533.19" width="3.95" height="7.02" fill="#22a762"/>
<rect x="755.73" y="558.77" width="3.95" height="5.33" fill="#8c641a"/>
<rect x="755.73" y="558.42" width="3.95" height="0.35" fill="#a0c0fa"/>
<rect x="755.73" y="554.76" width="3.95" height="3.66" fill="#6495ed"/>
<rect x="755.73" y="553.25" width="3.95" height="1.50" fill="#5a08a8"/>
<rect x="755.73" y="552.80" width="3.95" height="0.45" fill="#fb4e4e"/>
<rect x="755.73" y="551.75" width="3.95" height="1.05" fill="#7dcaa0"/>
<rect x="755.73" y="537.02" width="3.95" height="14.73" fill="#9ba3ab"/>
<rect x="755.73" y="536.70" width="3.95" height="0.32" fill="#e8a838"/>
<rect x="755.73" y="527.42" width="3.95" height="9.28" fill="#22a762"/>
<rect x="761.81" y="550.75" width="3.95" height="13.35" fill="#8c641a"/>
<rect x="761.81" y="550.40" width="3.95" height="0.35" fill="#a0c0fa"/>
<rect x="761.81" y="542.22" width="3.95" height="8.18" fill="#6495ed"/>
<rect x="761.81" y="538.71" width="3.95" height="3.51" fill="#5a08a8"/>
<rect x="761.81" y="537.65" width="3.95" height="1.05" fill="#fb4e4e"/>
<rect x="761.81" y="534.69" width="3.95" height="2.96" fill="#7dcaa0"/>
<rect x="761.81" y="489.74" width="3.95" height="44.95" fill="#9ba3ab"/>
<rect x="761.81" y="489.30" width="3.95" height="0.45" fill="#e8a838"/>
<rect x="761.81" y="465.22" width="3.95" height="24.08" fill="#22a762"/>
<rect x="767.89" y="556.77" width="3.95" height="7.33" fill="#8c641a"/>
<rect x="767.89" y="556.42" width="3.95" height="0.35" fill="#a0c0fa"/>
<rect x="767.89" y="553.25" width="3.95" height="3.16" fill="#6495ed"/>
<rect x="767.89" y="551.25" width="3.95" height="2.01" fill="#5a08a8"/>
<rect x="767.89" y="550.65" width="3.95" height="0.60" fill="#fb4e4e"/>
<rect x="767.89" y="549.24" width="3.95" height="1.40" fill="#7dcaa0"/>
<rect x="767.89" y="525.51" width="3.95" height="23.73" fill="#9ba3ab"/>
<rect x="767.89" y="525.16" width="3.95" height="0.35" fill="#e8a838"/>
<rect x="767.89" y="513.37" width="3.95" height="11.79" fill="#22a762"/>
<rect x="773.97" y="556.26" width="3.95" height="7.84" fill="#8c641a"/>
<rect x="773.97" y="555.91" width="3.95" height="0.35" fill="#a0c0fa"/>
<rect x="773.97" y="551.50" width="3.95" height="4.42" fill="#6495ed"/>
<rect x="773.97" y="549.24" width="3.95" height="2.26" fill="#5a08a8"/>
<rect x="773.97" y="548.56" width="3.95" height="0.68" fill="#fb4e4e"/>
<rect x="773.97" y="546.73" width="3.95" height="1.83" fill="#7dcaa0"/>
<rect x="773.97" y="519.51" width="3.95" height="27.22" fill="#9ba3ab"/>
<rect x="773.97" y="519.14" width="3.95" height="0.37" fill="#e8a838"/>
<rect x="773.97" y="505.35" width="3.95" height="13.79" fill="#22a762"/>
<rect x="780.04" y="558.77" width="3.95" height="5.33" fill="#8c641a"/>
<rect x="780.04" y="558.42" width="3.95" height="0.35" fill="#a0c0fa"/>
<rect x="780.04" y="555.26" width="3.95" height="3.16" fill="#6495ed"/>
<rect x="780.04" y="553.76" width="3.95" height="1.50" fill="#5a08a8"/>
<rect x="780.04" y="553.30" width="3.95" height="0.45" fill="#fb4e4e"/>
<rect x="780.04" y="551.75" width="3.95" height="1.56" fill="#7dcaa0"/>
<rect x="780.04" y="533.52" width="3.95" height="18.23" fill="#9ba3ab"/>
<rect x="780.04" y="533.19" width="3.95" height="0.33" fill="#e8a838"/>
<rect x="780.04" y="523.41" width="3.95" height="9.78" fill="#22a762"/>
<rect x="786.12" y="557.77" width="3.95" height="6.33" fill="#8c641a"/>
<rect x="786.12" y="557.42" width="3.95" height="0.35" fill="#a0c0fa"/>
<rect x="786.12" y="554.26" width="3.95" height="3.16" fill="#6495ed"/>
<rect x="786.12" y="552.75" width="3.95" height="1.50" fill="#5a08a8"/>
<rect x="786.12" y="552.30" width="3.95" height="0.45" fill="#fb4e4e"/>
<rect x="786.12" y="550.75" width="3.95" height="1.56" fill="#7dcaa0"/>
<rect x="786.12" y="528.52" width="3.95" height="22.23" fill="#9ba3ab"/>
<rect x="786.12" y="528.17" width="3.95" height="0.35" fill="#e8a838"/>
<rect x="786.12" y="516.38" width="3.95" height="11.79" fill="#22a762"/>
<rect x="792.20" y="559.27" width="3.95" height="4.83" fill="#8c641a"/>
<rect x="792.20" y="558.92" width="3.95" height="0.35" fill="#a0c0fa"/>
<rect x="792.20" y="556.26" width="3.95" height="2.66" fill="#6495ed"/>
<rect x="792.20" y="555.26" width="3.95" height="1.00" fill="#5a08a8"/>
<rect x="792.20" y="554.86" width="3.95" height="0.40" fill="#fb4e4e"/>
<rect x="792.20" y="553.76" width="3.95" height="1.10" fill="#7dcaa0"/>
<rect x="792.20" y="536.27" width="3.95" height="17.48" fill="#9ba3ab"/>
<rect x="792.20" y="535.95" width="3.95" height="0.33" fill="#e8a838"/>
<rect x="792.20" y="526.42" width="3.95" height="9.53" fill="#22a762"/>
<rect x="798.28" y="560.78" width="3.95" height="3.32" fill="#8c641a"/>
<rect x="798.28" y="560.43" width="3.95" height="0.35" fill="#a0c0fa"/>
<rect x="798.28" y="558.02" width="3.95" height="2.41" fill="#6495ed"/>
<rect x="798.28" y="557.02" width="3.95" height="1.00" fill="#5a08a8"/>
<rect x="798.28" y="556.62" width="3.95" height="0.40" fill="#fb4e4e"/>
<rect x="798.28" y="555.76" width="3.95" height="0.85" fill="#7dcaa0"/>
<rect x="798.28" y="543.28" width="3.95" height="12.49" fill="#9ba3ab"/>
<rect x="798.28" y="542.97" width="3.95" height="0.31" fill="#e8a838"/>
<rect x="798.28" y="536.20" width="3.95" height="6.77" fill="#22a762"/>
<rect x="804.36" y="552.75" width="3.95" height="11.35" fill="#8c641a"/>
<rect x="804.36" y="552.40" width="3.95" height="0.35" fill="#a0c0fa"/>
<rect x="804.36" y="545.23" width="3.95" height="7.17" fill="#6495ed"/>
<rect x="804.36" y="542.72" width="3.95" height="2.51" fill="#5a08a8"/>
<rect x="804.36" y="541.97" width="3.95" height="0.75" fill="#fb4e4e"/>
<rect x="804.36" y="538.71" width="3.95" height="3.26" fill="#7dcaa0"/>
<rect x="804.36" y="506.26" width="3.95" height="32.45" fill="#9ba3ab"/>
<rect x="804.36" y="505.85" width="3.95" height="0.41" fill="#e8a838"/>
<rect x="804.36" y="486.29" width="3.95" height="19.56" fill="#22a762"/>
<rect x="810.43" y="557.77" width="3.95" height="6.33" fill="#8c641a"/>
<rect x="810.43" y="557.42" width="3.95" height="0.35" fill="#a0c0fa"/>
<rect x="810.43" y="553.76" width="3.95" height="3.66" fill="#6495ed"/>
<rect x="810.43" y="552.25" width="3.95" height="1.50" fill="#5a08a8"/>
<rect x="810.43" y="551.80" width="3.95" height="0.45" fill="#fb4e4e"/>
<rect x="810.43" y="549.74" width="3.95" height="2.06" fill="#7dcaa0"/>
<rect x="810.43" y="531.02" width="3.95" height="18.73" fill="#9ba3ab"/>
<rect x="810.43" y="530.68" width="3.95" height="0.34" fill="#e8a838"/>
<rect x="810.43" y="520.65" width="3.95" height="10.03" fill="#22a762"/>
<rect x="816.51" y="550.50" width="3.95" height="13.60" fill="#8c641a"/>
<rect x="816.51" y="550.15" width="3.95" height="0.35" fill="#a0c0fa"/>
<rect x="816.51" y="542.22" width="3.95" height="7.93" fill="#6495ed"/>
<rect x="816.51" y="538.71" width="3.95" height="3.51" fill="#5a08a8"/>
<rect x="816.51" y="537.65" width="3.95" height="1.05" fill="#fb4e4e"/>
<rect x="816.51" y="534.69" width="3.95" height="2.96" fill="#7dcaa0"/>
<rect x="816.51" y="492.00" width="3.95" height="42.69" fill="#9ba3ab"/>
<rect x="816.51" y="491.55" width="3.95" height="0.45" fill="#e8a838"/>
<rect x="816.51" y="464.97" width="3.95" height="26.59" fill="#22a762"/>
<rect x="822.59" y="556.77" width="3.95" height="7.33" fill="#8c641a"/>
<rect x="822.59" y="556.42" width="3.95" height="0.35" fill="#a0c0fa"/>
<rect x="822.59" y="551.75" width="3.95" height="4.67" fill="#6495ed"/>
<rect x="822.59" y="549.74" width="3.95" height="2.01" fill="#5a08a8"/>
<rect x="822.59" y="549.14" width="3.95" height="0.60" fill="#fb4e4e"/>
<rect x="822.59" y="547.24" width="3.95" height="1.91" fill="#7dcaa0"/>
<rect x="822.59" y="520.27" width="3.95" height="26.97" fill="#9ba3ab"/>
<rect x="822.59" y="519.90" width="3.95" height="0.37" fill="#e8a838"/>
<rect x="822.59" y="504.35" width="3.95" height="15.55" fill="#22a762"/>
<rect x="828.67" y="556.26" width="3.95" height="7.84" fill="#8c641a"/>
<rect x="828.67" y="555.91" width="3.95" height="0.35" fill="#a0c0fa"/>
<rect x="828.67" y="551.75" width="3.95" height="4.16" fill="#6495ed"/>
<rect x="828.67" y="549.74" width="3.95" height="2.01" fill="#5a08a8"/>
<rect x="828.67" y="549.14" width="3.95" height="0.60" fill="#fb4e4e"/>
<rect x="828.67" y="547.24" width="3.95" height="1.91" fill="#7dcaa0"/>
<rect x="828.67" y="520.26" width="3.95" height="26.97" fill="#9ba3ab"/>
<rect x="828.67" y="519.90" width="3.95" height="0.37" fill="#e8a838"/>
<rect x="828.67" y="504.85" width="3.95" height="15.05" fill="#22a762"/>
<rect x="834.75" y="555.01" width="3.95" height="9.09" fill="#8c641a"/>
<rect x="834.75" y="554.66" width="3.95" height="0.35" fill="#a0c0fa"/>
<rect x="834.75" y="549.24" width="3.95" height="5.42" fill="#6495ed"/>
<rect x="834.75" y="546.73" width="3.95" height="2.51" fill="#5a08a8"/>
<rect x="834.75" y="545.98" width="3.95" height="0.75" fill="#fb4e4e"/>
<rect x="834.75" y="544.48" width="3.95" height="1.50" fill="#7dcaa0"/>
<rect x="834.75" y="515.01" width="3.95" height="29.47" fill="#9ba3ab"/>
<rect x="834.75" y="514.63" width="3.95" height="0.38" fill="#e8a838"/>
<rect x="834.75" y="499.83" width="3.95" height="14.80" fill="#22a762"/>
<rect x="840.82" y="557.77" width="3.95" height="6.33" fill="#8c641a"/>
<rect x="840.82" y="557.42" width="3.95" height="0.35" fill="#a0c0fa"/>
<rect x="840.82" y="553.76" width="3.95" height="3.66" fill="#6495ed"/>
<rect x="840.82" y="552.25" width="3.95" height="1.50" fill="#5a08a8"/>
<rect x="840.82" y="551.80" width="3.95" height="0.45" fill="#fb4e4e"/>
<rect x="840.82" y="550.24" width="3.95" height="1.56" fill="#7dcaa0"/>
<rect x="840.82" y="527.52" width="3.95" height="22.73" fill="#9ba3ab"/>
<rect x="840.82" y="527.17" width="3.95" height="0.35" fill="#e8a838"/>
<rect x="840.82" y="515.63" width="3.95" height="11.54" fill="#22a762"/>
<rect x="846.90" y="556.77" width="3.95" height="7.33" fill="#8c641a"/>
<rect x="846.90" y="556.42" width="3.95" height="0.35" fill="#a0c0fa"/>
<rect x="846.90" y="552.25" width="3.95" height="4.16" fill="#6495ed"/>
<rect x="846.90" y="550.24" width="3.95" height="2.01" fill="#5a08a8"/>
<rect x="846.90" y="549.64" width="3.95" height="0.60" fill="#fb4e4e"/>
<rect x="846.90" y="548.24" width="3.95" height="1.40" fill="#7dcaa0"/>
<rect x="846.90" y="525.52" width="3.95" height="22.72" fill="#9ba3ab"/>
<rect x="846.90" y="525.16" width="3.95" height="0.35" fill="#e8a838"/>
<rect x="846.90" y="512.37" width="3.95" height="12.79" fill="#22a762"/>
<rect x="852.98" y="558.27" width="3.95" height="5.83" fill="#8c641a"/>
<rect x="852.98" y="557.92" width="3.95" height="0.35" fill="#a0c0fa"/>
<rect x="852.98" y="555.26" width="3.95" height="2.66" fill="#6495ed"/>
<rect x="852.98" y="553.76" width="3.95" height="1.50" fill="#5a08a8"/>
<rect x="852.98" y="553.30" width="3.95" height="0.45" fill="#fb4e4e"/>
<rect x="852.98" y="552.25" width="3.95" height="1.05" fill="#7dcaa0"/>
<rect x="852.98" y="534.52" width="3.95" height="17.73" fill="#9ba3ab"/>
<rect x="852.98" y="534.19" width="3.95" height="0.33" fill="#e8a838"/>
<rect x="852.98" y="524.41" width="3.95" height="9.78" fill="#22a762"/>
<rect x="859.06" y="557.27" width="3.95" height="6.83" fill="#8c641a"/>
<rect x="859.06" y="556.92" width="3.95" height="0.35" fill="#a0c0fa"/>
<rect x="859.06" y="552.75" width="3.95" height="4.16" fill="#6495ed"/>
<rect x="859.06" y="550.75" width="3.95" height="2.01" fill="#5a08a8"/>
<rect x="859.06" y="550.14" width="3.95" height="0.60" fill="#fb4e4e"/>
<rect x="859.06" y="548.74" width="3.95" height="1.40" fill="#7dcaa0"/>
<rect x="859.06" y="528.02" width="3.95" height="20.72" fill="#9ba3ab"/>
<rect x="859.06" y="527.67" width="3.95" height="0.35" fill="#e8a838"/>
<rect x="859.06" y="515.38" width="3.95" height="12.29" fill="#22a762"/>
<rect x="865.14" y="555.26" width="3.95" height="8.84" fill="#8c641a"/>
<rect x="865.14" y="554.91" width="3.95" height="0.35" fill="#a0c0fa"/>
<rect x="865.14" y="549.24" width="3.95" height="5.67" fill="#6495ed"/>
<rect x="865.14" y="547.49" width="3.95" height="1.76" fill="#5a08a8"/>
<rect x="865.14" y="546.96" width="3.95" height="0.53" fill="#fb4e4e"/>
<rect x="865.14" y="545.23" width="3.95" height="1.73" fill="#7dcaa0"/>
<rect x="865.14" y="518.26" width="3.95" height="26.97" fill="#9ba3ab"/>
<rect x="865.14" y="517.89" width="3.95" height="0.37" fill="#e8a838"/>
<rect x="865.14" y="503.59" width="3.95" height="14.30" fill="#22a762"/>
<rect x="871.21" y="560.03" width="3.95" height="4.07" fill="#8c641a"/>
<rect x="871.21" y="559.68" width="3.95" height="0.35" fill="#a0c0fa"/>
<rect x="871.21" y="557.02" width="3.95" height="2.66" fill="#6495ed"/>
<rect x="871.21" y="556.01" width="3.95" height="1.00" fill="#5a08a8"/>
<rect x="871.21" y="555.61" width="3.95" height="0.40" fill="#fb4e4e"/>
<rect x="871.21" y="554.76" width="3.95" height="0.85" fill="#7dcaa0"/>
<rect x="871.21" y="539.53" width="3.95" height="15.23" fill="#9ba3ab"/>
<rect x="871.21" y="539.21" width="3.95" height="0.32" fill="#e8a838"/>
<rect x="871.21" y="530.18" width="3.95" height="9.03" fill="#22a762"/>
<rect x="877.29" y="560.78" width="3.95" height="3.32" fill="#8c641a"/>
<rect x="877.29" y="560.43" width="3.95" height="0.35" fill="#a0c0fa"/>
<rect x="877.29" y="557.27" width="3.95" height="3.16" fill="#6495ed"/>
<rect x="877.29" y="556.26" width="3.95" height="1.00" fill="#5a08a8"/>
<rect x="877.29" y="555.86" width="3.95" height="0.40" fill="#fb4e4e"/>
<rect x="877.29" y="555.26" width="3.95" height="0.60" fill="#7dcaa0"/>
<rect x="877.29" y="542.03" width="3.95" height="13.23" fill="#9ba3ab"/>
<rect x="877.29" y="541.72" width="3.95" height="0.31" fill="#e8a838"/>
<rect x="877.29" y="533.44" width="3.95" height="8.28" fill="#22a762"/>
<rect x="883.37" y="559.78" width="3.95" height="4.32" fill="#8c641a"/>
<rect x="883.37" y="559.43" width="3.95" height="0.35" fill="#a0c0fa"/>
<rect x="883.37" y="555.26" width="3.95" height="4.16" fill="#6495ed"/>
<rect x="883.37" y="553.76" width="3.95" height="1.50" fill="#5a08a8"/>
<rect x="883.37" y="553.30" width="3.95" height="0.45" fill="#fb4e4e"/>
<rect x="883.37" y="552.25" width="3.95" height="1.05" fill="#7dcaa0"/>
<rect x="883.37" y="535.27" width="3.95" height="16.98" fill="#9ba3ab"/>
<rect x="883.37" y="534.95" width="3.95" height="0.33" fill="#e8a838"/>
<rect x="883.37" y="524.41" width="3.95" height="10.53" fill="#22a762"/>
<rect x="889.45" y="554.51" width="3.95" height="9.59" fill="#8c641a"/>
<rect x="889.45" y="554.16" width="3.95" height="0.35" fill="#a0c0fa"/>
<rect x="889.45" y="547.24" width="3.95" height="6.92" fill="#6495ed"/>
<rect x="889.45" y="544.73" width="3.95" height="2.51" fill="#5a08a8"/>
<rect x="889.45" y="543.97" width="3.95" height="0.75" fill="#fb4e4e"/>
<rect x="889.45" y="542.22" width="3.95" height="1.76" fill="#7dcaa0"/>
<rect x="889.45" y="507.77" width="3.95" height="34.45" fill="#9ba3ab"/>
<rect x="889.45" y="507.36" width="3.95" height="0.41" fill="#e8a838"/>
<rect x="889.45" y="484.28" width="3.95" height="23.07" fill="#22a762"/>
<rect x="895.53" y="556.77" width="3.95" height="7.33" fill="#8c641a"/>
<rect x="895.53" y="556.42" width="3.95" height="0.35" fill="#a0c0fa"/>
<rect x="895.53" y="551.25" width="3.95" height="5.17" fill="#6495ed"/>
<rect x="895.53" y="549.24" width="3.95" height="2.01" fill="#5a08a8"/>
<rect x="895.53" y="548.64" width="3.95" height="0.60" fill="#fb4e4e"/>
<rect x="895.53" y="547.24" width="3.95" height="1.40" fill="#7dcaa0"/>
<rect x="895.53" y="522.52" width="3.95" height="24.72" fill="#9ba3ab"/>
<rect x="895.53" y="522.15" width="3.95" height="0.36" fill="#e8a838"/>
<rect x="895.53" y="507.86" width="3.95" height="14.30" fill="#22a762"/>
<rect x="901.61" y="553.76" width="3.95" height="10.34" fill="#8c641a"/>
<rect x="901.61" y="553.41" width="3.95" height="0.35" fill="#a0c0fa"/>
<rect x="901.61" y="545.23" width="3.95" height="8.18" fill="#6495ed"/>
<rect x="901.61" y="542.72" width="3.95" height="2.51" fill="#5a08a8"/>
<rect x="901.61" y="541.97" width="3.95" height="0.75" fill="#fb4e4e"/>
<rect x="901.61" y="540.21" width="3.95" height="1.76" fill="#7dcaa0"/>
<rect x="901.61" y="507.51" width="3.95" height="32.71" fill="#9ba3ab"/>
<rect x="901.61" y="507.10" width="3.95" height="0.40" fill="#e8a838"/>
<rect x="901.61" y="488.54" width="3.95" height="18.56" fill="#22a762"/>
<rect x="907.68" y="553.76" width="3.95" height="10.34" fill="#8c641a"/>
<rect x="907.68" y="553.41" width="3.95" height="0.35" fill="#a0c0fa"/>
<rect x="907.68" y="547.24" width="3.95" height="6.17" fill="#6495ed"/>
<rect x="907.68" y="544.73" width="3.95" height="2.51" fill="#5a08a8"/>
<rect x="907.68" y="543.97" width="3.95" height="0.75" fill="#fb4e4e"/>
<rect x="907.68" y="542.22" width="3.95" height="1.76" fill="#7dcaa0"/>
<rect x="907.68" y="512.01" width="3.95" height="30.21" fill="#9ba3ab"/>
<rect x="907.68" y="511.62" width="3.95" height="0.39" fill="#e8a838"/>
<rect x="907.68" y="494.56" width="3.95" height="17.06" fill="#22a762"/>
<rect x="913.76" y="558.77" width="3.95" height="5.33" fill="#8c641a"/>
<rect x="913.76" y="558.42" width="3.95" height="0.35" fill="#a0c0fa"/>
<rect x="913.76" y="554.26" width="3.95" height="4.16" fill="#6495ed"/>
<rect x="913.76" y="552.75" width="3.95" height="1.50" fill="#5a08a8"/>
<rect x="913.76" y="552.30" width="3.95" height="0.45" fill="#fb4e4e"/>
<rect x="913.76" y="550.75" width="3.95" height="1.56" fill="#7dcaa0"/>
<rect x="913.76" y="528.52" width="3.95" height="22.23" fill="#9ba3ab"/>
<rect x="913.76" y="528.17" width="3.95" height="0.35" fill="#e8a838"/>
<rect x="913.76" y="515.38" width="3.95" height="12.79" fill="#22a762"/>
<rect x="919.84" y="560.78" width="3.95" height="3.32" fill="#8c641a"/>
<rect x="919.84" y="560.43" width="3.95" height="0.35" fill="#a0c0fa"/>
<rect x="919.84" y="557.27" width="3.95" height="3.16" fill="#6495ed"/>
<rect x="919.84" y="556.26" width="3.95" height="1.00" fill="#5a08a8"/>
<rect x="919.84" y="555.86" width="3.95" height="0.40" fill="#fb4e4e"/>
<rect x="919.84" y="555.26" width="3.95" height="0.60" fill="#7dcaa0"/>
<rect x="919.84" y="541.78" width="3.95" height="13.49" fill="#9ba3ab"/>
<rect x="919.84" y="541.47" width="3.95" height="0.31" fill="#e8a838"/>
<rect x="919.84" y="534.44" width="3.95" height="7.02" fill="#22a762"/>
<rect x="925.92" y="557.77" width="3.95" height="6.33" fill="#8c641a"/>
<rect x="925.92" y="557.42" width="3.95" height="0.35" fill="#a0c0fa"/>
<rect x="925.92" y="551.25" width="3.95" height="6.17" fill="#6495ed"/>
<rect x="925.92" y="549.74" width="3.95" height="1.50" fill="#5a08a8"/>
<rect x="925.92" y="549.29" width="3.95" height="0.45" fill="#fb4e4e"/>
<rect x="925.92" y="547.74" width="3.95" height="1.56" fill="#7dcaa0"/>
<rect x="925.92" y="524.52" width="3.95" height="23.22" fill="#9ba3ab"/>
<rect x="925.92" y="524.16" width="3.95" height="0.36" fill="#e8a838"/>
<rect x="925.92" y="509.61" width="3.95" height="14.55" fill="#22a762"/>
<rect x="932.00" y="555.76" width="3.95" height="8.34" fill="#8c641a"/>
<rect x="932.00" y="555.41" width="3.95" height="0.35" fill="#a0c0fa"/>
<rect x="932.00" y="549.24" width="3.95" height="6.17" fill="#6495ed"/>
<rect x="932.00" y="547.74" width="3.95" height="1.50" fill="#5a08a8"/>
<rect x="932.00" y="547.29" width="3.95" height="0.45" fill="#fb4e4e"/>
<rect x="932.00" y="546.23" width="3.95" height="1.05" fill="#7dcaa0"/>
<rect x="932.00" y="520.01" width="3.95" height="26.22" fill="#9ba3ab"/>
<rect x="932.00" y="519.65" width="3.95" height="0.37" fill="#e8a838"/>
<rect x="932.00" y="505.60" width="3.95" height="14.05" fill="#22a762"/>
<rect x="938.07" y="558.77" width="3.95" height="5.33" fill="#8c641a"/>
<rect x="938.07" y="558.42" width="3.95" height="0.35" fill="#a0c0fa"/>
<rect x="938.07" y="553.25" width="3.95" height="5.17" fill="#6495ed"/>
<rect x="938.07" y="551.75" width="3.95" height="1.50" fill="#5a08a8"/>
<rect x="938.07" y="551.30" width="3.95" height="0.45" fill="#fb4e4e"/>
<rect x="938.07" y="550.24" width="3.95" height="1.05" fill="#7dcaa0"/>
<rect x="938.07" y="530.52" width="3.95" height="19.73" fill="#9ba3ab"/>
<rect x="938.07" y="530.18" width="3.95" height="0.34" fill="#e8a838"/>
<rect x="938.07" y="520.40" width="3.95" height="9.78" fill="#22a762"/>
<rect x="944.15" y="560.28" width="3.95" height="3.82" fill="#8c641a"/>
<rect x="944.15" y="559.93" width="3.95" height="0.35" fill="#a0c0fa"/>
<rect x="944.15" y="555.76" width="3.95" height="4.16" fill="#6495ed"/>
<rect x="944.15" y="554.76" width="3.95" height="1.00" fill="#5a08a8"/>
<rect x="944.15" y="554.36" width="3.95" height="0.40" fill="#fb4e4e"/>
<rect x="944.15" y="553.76" width="3.95" height="0.60" fill="#7dcaa0"/>
<rect x="944.15" y="538.52" width="3.95" height="15.24" fill="#9ba3ab"/>
<rect x="944.15" y="538.21" width="3.95" height="0.32" fill="#e8a838"/>
<rect x="944.15" y="531.43" width="3.95" height="6.77" fill="#22a762"/>
<rect x="950.23" y="556.77" width="3.95" height="7.33" fill="#8c641a"/>
<rect x="950.23" y="556.42" width="3.95" height="0.35" fill="#a0c0fa"/>
<rect x="950.23" y="550.24" width="3.95" height="6.17" fill="#6495ed"/>
<rect x="950.23" y="548.74" width="3.95" height="1.50" fill="#5a08a8"/>
<rect x="950.23" y="548.29" width="3.95" height="0.45" fill="#fb4e4e"/>
<rect x="950.23" y="546.48" width="3.95" height="1.81" fill="#7dcaa0"/>
<rect x="950.23" y="518.76" width="3.95" height="27.72" fill="#9ba3ab"/>
<rect x="950.23" y="518.39" width="3.95" height="0.37" fill="#e8a838"/>
<rect x="950.23" y="502.34" width="3.95" height="16.05" fill="#22a762"/>
<rect x="956.31" y="560.28" width="3.95" height="3.82" fill="#8c641a"/>
<rect x="956.31" y="559.93" width="3.95" height="0.35" fill="#a0c0fa"/>
<rect x="956.31" y="556.26" width="3.95" height="3.66" fill="#6495ed"/>
<rect x="956.31" y="555.26" width="3.95" height="1.00" fill="#5a08a8"/>
<rect x="956.31" y="554.86" width="3.95" height="0.40" fill="#fb4e4e"/>
<rect x="956.31" y="554.26" width="3.95" height="0.60" fill="#7dcaa0"/>
<rect x="956.31" y="538.52" width="3.95" height="15.74" fill="#9ba3ab"/>
<rect x="956.31" y="538.21" width="3.95" height="0.32" fill="#e8a838"/>
<rect x="956.31" y="530.68" width="3.95" height="7.52" fill="#22a762"/>
<rect x="962.38" y="560.78" width="3.95" height="3.32" fill="#8c641a"/>
<rect x="962.38" y="560.43" width="3.95" height="0.35" fill="#a0c0fa"/>
<rect x="962.38" y="555.76" width="3.95" height="4.67" fill="#6495ed"/>
<rect x="962.38" y="554.76" width="3.95" height="1.00" fill="#5a08a8"/>
<rect x="962.38" y="554.36" width="3.95" height="0.40" fill="#fb4e4e"/>
<rect x="962.38" y="553.76" width="3.95" height="0.60" fill="#7dcaa0"/>
<rect x="962.38" y="541.53" width="3.95" height="12.23" fill="#9ba3ab"/>
<rect x="962.38" y="541.22" width="3.95" height="0.31" fill="#e8a838"/>
<rect x="962.38" y="534.19" width="3.95" height="7.02" fill="#22a762"/>
<rect x="968.46" y="559.78" width="3.95" height="4.32" fill="#8c641a"/>
<rect x="968.46" y="559.43" width="3.95" height="0.35" fill="#a0c0fa"/>
<rect x="968.46" y="553.25" width="3.95" height="6.17" fill="#6495ed"/>
<rect x="968.46" y="552.25" width="3.95" height="1.00" fill="#5a08a8"/>
<rect x="968.46" y="551.85" width="3.95" height="0.40" fill="#fb4e4e"/>
<rect x="968.46" y="550.75" width="3.95" height="1.10" fill="#7dcaa0"/>
<rect x="968.46" y="536.52" width="3.95" height="14.22" fill="#9ba3ab"/>
<rect x="968.46" y="536.20" width="3.95" height="0.32" fill="#e8a838"/>
<rect x="968.46" y="527.42" width="3.95" height="8.78" fill="#22a762"/>
<rect x="974.54" y="558.77" width="3.95" height="5.33" fill="#8c641a"/>
<rect x="974.54" y="558.42" width="3.95" height="0.35" fill="#a0c0fa"/>
<rect x="974.54" y="553.76" width="3.95" height="4.67" fill="#6495ed"/>
<rect x="974.54" y="552.75" width="3.95" height="1.00" fill="#5a08a8"/>
<rect x="974.54" y="552.35" width="3.95" height="0.40" fill="#fb4e4e"/>
<rect x="974.54" y="551.25" width="3.95" height="1.10" fill="#7dcaa0"/>
<rect x="974.54" y="534.02" width="3.95" height="17.23" fill="#9ba3ab"/>
<rect x="974.54" y="533.69" width="3.95" height="0.33" fill="#e8a838"/>
<rect x="974.54" y="524.16" width="3.95" height="9.53" fill="#22a762"/>
<rect x="980.62" y="555.26" width="3.95" height="8.84" fill="#8c641a"/>
<rect x="980.62" y="554.91" width="3.95" height="0.35" fill="#a0c0fa"/>
<rect x="980.62" y="548.24" width="3.95" height="6.67" fill="#6495ed"/>
<rect x="980.62" y="546.73" width="3.95" height="1.50" fill="#5a08a8"/>
<rect x="980.62" y="546.28" width="3.95" height="0.45" fill="#fb4e4e"/>
<rect x="980.62" y="544.73" width="3.95" height="1.56" fill="#7dcaa0"/>
<rect x="980.62" y="517.76" width="3.95" height="26.97" fill="#9ba3ab"/>
<rect x="980.62" y="517.39" width="3.95" height="0.37" fill="#e8a838"/>
<rect x="980.62" y="502.34" width="3.95" height="15.05" fill="#22a762"/>
<rect x="986.70" y="551.25" width="3.95" height="12.85" fill="#8c641a"/>
<rect x="986.70" y="550.90" width="3.95" height="0.35" fill="#a0c0fa"/>
<rect x="986.70" y="540.71" width="3.95" height="10.18" fill="#6495ed"/>
<rect x="986.70" y="538.21" width="3.95" height="2.51" fill="#5a08a8"/>
<rect x="986.70" y="536.20" width="3.95" height="2.01" fill="#fb4e4e"/>
<rect x="986.70" y="534.19" width="3.95" height="2.01" fill="#7dcaa0"/>
<rect x="986.70" y="500.75" width="3.95" height="33.44" fill="#9ba3ab"/>
<rect x="986.70" y="500.33" width="3.95" height="0.42" fill="#e8a838"/>
<rect x="986.70" y="478.26" width="3.95" height="22.07" fill="#22a762"/>
<rect x="992.77" y="541.72" width="3.95" height="22.38" fill="#8c641a"/>
<rect x="992.77" y="541.37" width="3.95" height="0.35" fill="#a0c0fa"/>
<rect x="992.77" y="527.17" width="3.95" height="14.20" fill="#6495ed"/>
<rect x="992.77" y="523.16" width="3.95" height="4.01" fill="#5a08a8"/>
<rect x="992.77" y="521.15" width="3.95" height="2.01" fill="#fb4e4e"/>
<rect x="992.77" y="517.39" width="3.95" height="3.76" fill="#7dcaa0"/>
<rect x="992.77" y="466.73" width="3.95" height="50.66" fill="#9ba3ab"/>
<rect x="992.77" y="466.22" width="3.95" height="0.51" fill="#e8a838"/>
<rect x="992.77" y="435.87" width="3.95" height="30.35" fill="#22a762"/>
<rect x="998.85" y="541.72" width="3.95" height="22.38" fill="#8c641a"/>
<rect x="998.85" y="541.37" width="3.95" height="0.35" fill="#a0c0fa"/>
<rect x="998.85" y="527.67" width="3.95" height="13.70" fill="#6495ed"/>
<rect x="998.85" y="523.66" width="3.95" height="4.01" fill="#5a08a8"/>
<rect x="998.85" y="521.65" width="3.95" height="2.01" fill="#fb4e4e"/>
<rect x="998.85" y="518.14" width="3.95" height="3.51" fill="#7dcaa0"/>
<rect x="998.85" y="463.73" width="3.95" height="54.41" fill="#9ba3ab"/>
<rect x="998.85" y="463.21" width="3.95" height="0.52" fill="#e8a838"/>
<rect x="998.85" y="429.60" width="3.95" height="33.61" fill="#22a762"/>
<rect x="1004.93" y="535.70" width="3.95" height="28.40" fill="#8c641a"/>
<rect x="1004.93" y="535.35" width="3.95" height="0.35" fill="#a0c0fa"/>
<rect x="1004.93" y="515.63" width="3.95" height="19.72" fill="#6495ed"/>
<rect x="1004.93" y="510.87" width="3.95" height="4.77" fill="#5a08a8"/>
<rect x="1004.93" y="508.86" width="3.95" height="2.01" fill="#fb4e4e"/>
<rect x="1004.93" y="503.59" width="3.95" height="5.27" fill="#7dcaa0"/>
<rect x="1004.93" y="437.22" width="3.95" height="66.37" fill="#9ba3ab"/>
<rect x="1004.93" y="436.63" width="3.95" height="0.60" fill="#e8a838"/>
<rect x="1004.93" y="389.50" width="3.95" height="47.13" fill="#22a762"/>
<rect x="1011.01" y="528.67" width="3.95" height="35.43" fill="#8c641a"/>
<rect x="1011.01" y="528.32" width="3.95" height="0.35" fill="#a0c0fa"/>
<rect x="1011.01" y="505.85" width="3.95" height="22.47" fill="#6495ed"/>
<rect x="1011.01" y="499.58" width="3.95" height="6.27" fill="#5a08a8"/>
<rect x="1011.01" y="497.07" width="3.95" height="2.51" fill="#fb4e4e"/>
<rect x="1011.01" y="491.30" width="3.95" height="5.77" fill="#7dcaa0"/>
<rect x="1011.01" y="404.95" width="3.95" height="86.36" fill="#9ba3ab"/>
<rect x="1011.01" y="404.27" width="3.95" height="0.68" fill="#e8a838"/>
<rect x="1011.01" y="351.40" width="3.95" height="52.87" fill="#22a762"/>
<rect x="1017.09" y="513.63" width="3.95" height="50.47" fill="#8c641a"/>
<rect x="1017.09" y="513.28" width="3.95" height="0.35" fill="#a0c0fa"/>
<rect x="1017.09" y="483.28" width="3.95" height="30.00" fill="#6495ed"/>
<rect x="1017.09" y="472.74" width="3.95" height="10.53" fill="#5a08a8"/>
<rect x="1017.09" y="469.23" width="3.95" height="3.51" fill="#fb4e4e"/>
<rect x="1017.09" y="460.45" width="3.95" height="8.78" fill="#7dcaa0"/>
<rect x="1017.09" y="342.24" width="3.95" height="118.22" fill="#9ba3ab"/>
<rect x="1017.09" y="341.40" width="3.95" height="0.84" fill="#e8a838"/>
<rect x="1017.09" y="271.40" width="3.95" height="70.00" fill="#22a762"/>
<rect x="1023.17" y="535.70" width="3.95" height="28.40" fill="#8c641a"/>
<rect x="1023.17" y="535.35" width="3.95" height="0.35" fill="#a0c0fa"/>
<rect x="1023.17" y="520.15" width="3.95" height="15.20" fill="#6495ed"/>
<rect x="1023.17" y="515.13" width="3.95" height="5.02" fill="#5a08a8"/>
<rect x="1023.17" y="512.37" width="3.95" height="2.76" fill="#fb4e4e"/>
<rect x="1023.17" y="507.36" width="3.95" height="5.02" fill="#7dcaa0"/>
<rect x="1023.17" y="431.71" width="3.95" height="75.65" fill="#9ba3ab"/>
<rect x="1023.17" y="431.11" width="3.95" height="0.60" fill="#e8a838"/>
<rect x="1023.17" y="388.00" width="3.95" height="43.11" fill="#22a762"/>
<rect x="1029.24" y="544.73" width="3.95" height="19.37" fill="#8c641a"/>
<rect x="1029.24" y="544.38" width="3.95" height="0.35" fill="#a0c0fa"/>
<rect x="1029.24" y="534.19" width="3.95" height="10.18" fill="#6495ed"/>
<rect x="1029.24" y="530.93" width="3.95" height="3.26" fill="#5a08a8"/>
<rect x="1029.24" y="529.18" width="3.95" height="1.76" fill="#fb4e4e"/>
<rect x="1029.24" y="526.17" width="3.95" height="3.01" fill="#7dcaa0"/>
<rect x="1029.24" y="477.74" width="3.95" height="48.43" fill="#9ba3ab"/>
<rect x="1029.24" y="477.26" width="3.95" height="0.48" fill="#e8a838"/>
<rect x="1029.24" y="448.92" width="3.95" height="28.34" fill="#22a762"/>
<rect x="1035.32" y="539.96" width="3.95" height="24.14" fill="#8c641a"/>
<rect x="1035.32" y="539.61" width="3.95" height="0.35" fill="#a0c0fa"/>
<rect x="1035.32" y="525.16" width="3.95" height="14.45" fill="#6495ed"/>
<rect x="1035.32" y="520.65" width="3.95" height="4.51" fill="#5a08a8"/>
<rect x="1035.32" y="518.64" width="3.95" height="2.01" fill="#fb4e4e"/>
<rect x="1035.32" y="514.38" width="3.95" height="4.26" fill="#7dcaa0"/>
<rect x="1035.32" y="462.74" width="3.95" height="51.64" fill="#9ba3ab"/>
<rect x="1035.32" y="462.21" width="3.95" height="0.53" fill="#e8a838"/>
<rect x="1035.32" y="424.08" width="3.95" height="38.12" fill="#22a762"/>
<rect x="1041.40" y="534.69" width="3.95" height="29.41" fill="#8c641a"/>
<rect x="1041.40" y="534.34" width="3.95" height="0.35" fill="#a0c0fa"/>
<rect x="1041.40" y="517.14" width="3.95" height="17.21" fill="#6495ed"/>
<rect x="1041.40" y="512.12" width="3.95" height="5.02" fill="#5a08a8"/>
<rect x="1041.40" y="510.11" width="3.95" height="2.01" fill="#fb4e4e"/>
<rect x="1041.40" y="505.60" width="3.95" height="4.51" fill="#7dcaa0"/>
<rect x="1041.40" y="438.72" width="3.95" height="66.88" fill="#9ba3ab"/>
<rect x="1041.40" y="438.13" width="3.95" height="0.59" fill="#e8a838"/>
<rect x="1041.40" y="394.00" width="3.95" height="44.13" fill="#22a762"/>
<rect x="1047.48" y="517.14" width="3.95" height="46.96" fill="#8c641a"/>
<rect x="1047.48" y="516.79" width="3.95" height="0.35" fill="#a0c0fa"/>
<rect x="1047.48" y="492.31" width="3.95" height="24.48" fill="#6495ed"/>
<rect x="1047.48" y="483.28" width="3.95" height="9.03" fill="#5a08a8"/>
<rect x="1047.48" y="480.77" width="3.95" height="2.51" fill="#fb4e4e"/>
<rect x="1047.48" y="473.75" width="3.95" height="7.02" fill="#7dcaa0"/>
<rect x="1047.48" y="373.95" width="3.95" height="99.79" fill="#9ba3ab"/>
<rect x="1047.48" y="373.20" width="3.95" height="0.75" fill="#e8a838"/>
<rect x="1047.48" y="312.00" width="3.95" height="61.20" fill="#22a762"/>
<rect x="1053.56" y="487.04" width="3.95" height="77.06" fill="#8c641a"/>
<rect x="1053.56" y="486.69" width="3.95" height="0.35" fill="#a0c0fa"/>
<rect x="1053.56" y="449.17" width="3.95" height="37.52" fill="#6495ed"/>
<rect x="1053.56" y="431.11" width="3.95" height="18.06" fill="#5a08a8"/>
<rect x="1053.56" y="426.09" width="3.95" height="5.02" fill="#fb4e4e"/>
<rect x="1053.56" y="415.56" width="3.95" height="10.53" fill="#7dcaa0"/>
<rect x="1053.56" y="242.00" width="3.95" height="173.56" fill="#9ba3ab"/>
<rect x="1053.56" y="240.40" width="3.95" height="1.60" fill="#e8a838"/>
<rect x="1053.56" y="135.10" width="3.95" height="105.30" fill="#22a762"/>
<rect x="1059.63" y="526.67" width="3.95" height="37.43" fill="#8c641a"/>
<rect x="1059.63" y="526.32" width="3.95" height="0.35" fill="#a0c0fa"/>
<rect x="1059.63" y="505.10" width="3.95" height="21.22" fill="#6495ed"/>
<rect x="1059.63" y="496.32" width="3.95" height="8.78" fill="#5a08a8"/>
<rect x="1059.63" y="493.81" width="3.95" height="2.51" fill="#fb4e4e"/>
<rect x="1059.63" y="487.29" width="3.95" height="6.52" fill="#7dcaa0"/>
<rect x="1059.63" y="404.94" width="3.95" height="82.35" fill="#9ba3ab"/>
<rect x="1059.63" y="404.27" width="3.95" height="0.67" fill="#e8a838"/>
<rect x="1059.63" y="356.20" width="3.95" height="48.07" fill="#22a762"/>
<rect x="1065.71" y="529.68" width="3.95" height="34.42" fill="#8c641a"/>
<rect x="1065.71" y="529.33" width="3.95" height="0.35" fill="#a0c0fa"/>
<rect x="1065.71" y="507.61" width="3.95" height="21.72" fill="#6495ed"/>
<rect x="1065.71" y="500.33" width="3.95" height="7.27" fill="#5a08a8"/>
<rect x="1065.71" y="498.08" width="3.95" height="2.26" fill="#fb4e4e"/>
<rect x="1065.71" y="492.56" width="3.95" height="5.52" fill="#7dcaa0"/>
<rect x="1065.71" y="413.70" width="3.95" height="78.86" fill="#9ba3ab"/>
<rect x="1065.71" y="413.05" width="3.95" height="0.65" fill="#e8a838"/>
<rect x="1065.71" y="363.40" width="3.95" height="49.65" fill="#22a762"/>
<rect x="1071.79" y="533.69" width="3.95" height="30.41" fill="#8c641a"/>
<rect x="1071.79" y="533.34" width="3.95" height="0.35" fill="#a0c0fa"/>
<rect x="1071.79" y="514.88" width="3.95" height="18.46" fill="#6495ed"/>
<rect x="1071.79" y="507.86" width="3.95" height="7.02" fill="#5a08a8"/>
<rect x="1071.79" y="505.60" width="3.95" height="2.26" fill="#fb4e4e"/>
<rect x="1071.79" y="501.59" width="3.95" height="4.01" fill="#7dcaa0"/>
<rect x="1071.79" y="437.97" width="3.95" height="63.62" fill="#9ba3ab"/>
<rect x="1071.79" y="437.38" width="3.95" height="0.59" fill="#e8a838"/>
<rect x="1071.79" y="395.50" width="3.95" height="41.88" fill="#22a762"/>
<rect x="1077.87" y="542.72" width="3.95" height="21.38" fill="#8c641a"/>
<rect x="1077.87" y="542.37" width="3.95" height="0.35" fill="#a0c0fa"/>
<rect x="1077.87" y="530.18" width="3.95" height="12.19" fill="#6495ed"/>
<rect x="1077.87" y="525.92" width="3.95" height="4.26" fill="#5a08a8"/>
<rect x="1077.87" y="524.16" width="3.95" height="1.76" fill="#fb4e4e"/>
<rect x="1077.87" y="520.65" width="3.95" height="3.51" fill="#7dcaa0"/>
<rect x="1077.87" y="474.74" width="3.95" height="45.91" fill="#9ba3ab"/>
<rect x="1077.87" y="474.25" width="3.95" height="0.49" fill="#e8a838"/>
<rect x="1077.87" y="443.15" width="3.95" height="31.10" fill="#22a762"/>
<rect x="1083.95" y="532.69" width="3.95" height="31.41" fill="#8c641a"/>
<rect x="1083.95" y="532.34" width="3.95" height="0.35" fill="#a0c0fa"/>
<rect x="1083.95" y="512.37" width="3.95" height="19.97" fill="#6495ed"/>
<rect x="1083.95" y="506.10" width="3.95" height="6.27" fill="#5a08a8"/>
<rect x="1083.95" y="503.34" width="3.95" height="2.76" fill="#fb4e4e"/>
<rect x="1083.95" y="497.82" width="3.95" height="5.52" fill="#7dcaa0"/>
<rect x="1083.95" y="425.72" width="3.95" height="72.10" fill="#9ba3ab"/>
<rect x="1083.95" y="425.09" width="3.95" height="0.64" fill="#e8a838"/>
<rect x="1083.95" y="371.50" width="3.95" height="53.59" fill="#22a762"/>
<rect x="1090.02" y="547.74" width="3.95" height="16.36" fill="#8c641a"/>
<rect x="1090.02" y="547.39" width="3.95" height="0.35" fill="#a0c0fa"/>
<rect x="1090.02" y="536.20" width="3.95" height="11.19" fill="#6495ed"/>
<rect x="1090.02" y="532.69" width="3.95" height="3.51" fill="#5a08a8"/>
<rect x="1090.02" y="531.18" width="3.95" height="1.50" fill="#fb4e4e"/>
<rect x="1090.02" y="528.67" width="3.95" height="2.51" fill="#7dcaa0"/>
<rect x="1090.02" y="490.75" width="3.95" height="37.92" fill="#9ba3ab"/>
<rect x="1090.02" y="490.30" width="3.95" height="0.45" fill="#e8a838"/>
<rect x="1090.02" y="463.46" width="3.95" height="26.84" fill="#22a762"/>
<rect x="1096.10" y="545.98" width="3.95" height="18.12" fill="#8c641a"/>
<rect x="1096.10" y="545.63" width="3.95" height="0.35" fill="#a0c0fa"/>
<rect x="1096.10" y="534.95" width="3.95" height="10.69" fill="#6495ed"/>
<rect x="1096.10" y="530.43" width="3.95" height="4.51" fill="#5a08a8"/>
<rect x="1096.10" y="528.67" width="3.95" height="1.76" fill="#fb4e4e"/>
<rect x="1096.10" y="526.67" width="3.95" height="2.01" fill="#7dcaa0"/>
<rect x="1096.10" y="483.73" width="3.95" height="42.93" fill="#9ba3ab"/>
<rect x="1096.10" y="483.28" width="3.95" height="0.46" fill="#e8a838"/>
<rect x="1096.10" y="460.20" width="3.95" height="23.07" fill="#22a762"/>
<rect x="1102.18" y="544.73" width="3.95" height="19.37" fill="#8c641a"/>
<rect x="1102.18" y="544.38" width="3.95" height="0.35" fill="#a0c0fa"/>
<rect x="1102.18" y="528.42" width="3.95" height="15.95" fill="#6495ed"/>
<rect x="1102.18" y="524.16" width="3.95" height="4.26" fill="#5a08a8"/>
<rect x="1102.18" y="522.15" width="3.95" height="2.01" fill="#fb4e4e"/>
<rect x="1102.18" y="519.65" width="3.95" height="2.51" fill="#7dcaa0"/>
<rect x="1102.18" y="476.73" width="3.95" height="42.91" fill="#9ba3ab"/>
<rect x="1102.18" y="476.25" width="3.95" height="0.48" fill="#e8a838"/>
<rect x="1102.18" y="450.17" width="3.95" height="26.08" fill="#22a762"/>
<rect x="1108.26" y="536.70" width="3.95" height="27.40" fill="#8c641a"/>
<rect x="1108.26" y="536.35" width="3.95" height="0.35" fill="#a0c0fa"/>
<rect x="1108.26" y="517.14" width="3.95" height="19.21" fill="#6495ed"/>
<rect x="1108.26" y="510.11" width="3.95" height="7.02" fill="#5a08a8"/>
<rect x="1108.26" y="507.61" width="3.95" height="2.51" fill="#fb4e4e"/>
<rect x="1108.26" y="504.09" width="3.95" height="3.51" fill="#7dcaa0"/>
<rect x="1108.26" y="440.73" width="3.95" height="63.37" fill="#9ba3ab"/>
<rect x="1108.26" y="440.14" width="3.95" height="0.59" fill="#e8a838"/>
<rect x="1108.26" y="395.00" width="3.95" height="45.14" fill="#22a762"/>
<rect x="1114.34" y="544.73" width="3.95" height="19.37" fill="#8c641a"/>
<rect x="1114.34" y="544.38" width="3.95" height="0.35" fill="#a0c0fa"/>
<rect x="1114.34" y="533.19" width="3.95" height="11.19" fill="#6495ed"/>
<rect x="1114.34" y="528.17" width="3.95" height="5.02" fill="#5a08a8"/>
<rect x="1114.34" y="525.66" width="3.95" height="2.51" fill="#fb4e4e"/>
<rect x="1114.34" y="522.91" width="3.95" height="2.76" fill="#7dcaa0"/>
<rect x="1114.34" y="471.74" width="3.95" height="51.17" fill="#9ba3ab"/>
<rect x="1114.34" y="471.24" width="3.95" height="0.50" fill="#e8a838"/>
<rect x="1114.34" y="439.13" width="3.95" height="32.10" fill="#22a762"/>
<rect x="1120.41" y="517.64" width="3.95" height="46.46" fill="#8c641a"/>
<rect x="1120.41" y="517.29" width="3.95" height="0.35" fill="#a0c0fa"/>
<rect x="1120.41" y="488.80" width="3.95" height="28.49" fill="#6495ed"/>
<rect x="1120.41" y="478.76" width="3.95" height="10.03" fill="#5a08a8"/>
<rect x="1120.41" y="475.00" width="3.95" height="3.76" fill="#fb4e4e"/>
<rect x="1120.41" y="468.23" width="3.95" height="6.77" fill="#7dcaa0"/>
<rect x="1120.41" y="370.79" width="3.95" height="97.44" fill="#9ba3ab"/>
<rect x="1120.41" y="370.00" width="3.95" height="0.79" fill="#e8a838"/>
<rect x="1120.41" y="295.50" width="3.95" height="74.50" fill="#22a762"/>
<rect x="1126.49" y="525.66" width="3.95" height="38.44" fill="#8c641a"/>
<rect x="1126.49" y="525.31" width="3.95" height="0.35" fill="#a0c0fa"/>
<rect x="1126.49" y="506.85" width="3.95" height="18.46" fill="#6495ed"/>
<rect x="1126.49" y="499.83" width="3.95" height="7.02" fill="#5a08a8"/>
<rect x="1126.49" y="496.32" width="3.95" height="3.51" fill="#fb4e4e"/>
<rect x="1126.49" y="490.30" width="3.95" height="6.02" fill="#7dcaa0"/>
<rect x="1126.49" y="414.96" width="3.95" height="75.34" fill="#9ba3ab"/>
<rect x="1126.49" y="414.30" width="3.95" height="0.66" fill="#e8a838"/>
<rect x="1126.49" y="360.00" width="3.95" height="54.30" fill="#22a762"/>
<rect x="1132.57" y="539.71" width="3.95" height="24.39" fill="#8c641a"/>
<rect x="1132.57" y="539.36" width="3.95" height="0.35" fill="#a0c0fa"/>
<rect x="1132.57" y="523.16" width="3.95" height="16.20" fill="#6495ed"/>
<rect x="1132.57" y="518.14" width="3.95" height="5.02" fill="#5a08a8"/>
<rect x="1132.57" y="515.63" width="3.95" height="2.51" fill="#fb4e4e"/>
<rect x="1132.57" y="512.37" width="3.95" height="3.26" fill="#7dcaa0"/>
<rect x="1132.57" y="456.73" width="3.95" height="55.64" fill="#9ba3ab"/>
<rect x="1132.57" y="456.19" width="3.95" height="0.54" fill="#e8a838"/>
<rect x="1132.57" y="419.32" width="3.95" height="36.87" fill="#22a762"/>
<rect x="1138.65" y="539.71" width="3.95" height="24.39" fill="#8c641a"/>
<rect x="1138.65" y="539.36" width="3.95" height="0.35" fill="#a0c0fa"/>
<rect x="1138.65" y="526.17" width="3.95" height="13.19" fill="#6495ed"/>
<rect x="1138.65" y="520.65" width="3.95" height="5.52" fill="#5a08a8"/>
<rect x="1138.65" y="517.64" width="3.95" height="3.01" fill="#fb4e4e"/>
<rect x="1138.65" y="512.87" width="3.95" height="4.77" fill="#7dcaa0"/>
<rect x="1138.65" y="451.99" width="3.95" height="60.89" fill="#9ba3ab"/>
<rect x="1138.65" y="451.42" width="3.95" height="0.56" fill="#e8a838"/>
<rect x="1138.65" y="408.28" width="3.95" height="43.14" fill="#22a762"/>
<rect x="1144.73" y="532.69" width="3.95" height="31.41" fill="#8c641a"/>
<rect x="1144.73" y="532.34" width="3.95" height="0.35" fill="#a0c0fa"/>
<rect x="1144.73" y="514.13" width="3.95" height="18.21" fill="#6495ed"/>
<rect x="1144.73" y="507.61" width="3.95" height="6.52" fill="#5a08a8"/>
<rect x="1144.73" y="504.09" width="3.95" height="3.51" fill="#fb4e4e"/>
<rect x="1144.73" y="499.83" width="3.95" height="4.26" fill="#7dcaa0"/>
<rect x="1144.73" y="428.23" width="3.95" height="71.60" fill="#9ba3ab"/>
<rect x="1144.73" y="427.60" width="3.95" height="0.63" fill="#e8a838"/>
<rect x="1144.73" y="374.00" width="3.95" height="53.60" fill="#22a762"/>
<rect x="1150.80" y="540.71" width="3.95" height="23.39" fill="#8c641a"/>
<rect x="1150.80" y="540.36" width="3.95" height="0.35" fill="#a0c0fa"/>
<rect x="1150.80" y="527.17" width="3.95" height="13.19" fill="#6495ed"/>
<rect x="1150.80" y="522.15" width="3.95" height="5.02" fill="#5a08a8"/>
<rect x="1150.80" y="519.65" width="3.95" height="2.51" fill="#fb4e4e"/>
<rect x="1150.80" y="517.14" width="3.95" height="2.51" fill="#7dcaa0"/>
<rect x="1150.80" y="458.74" width="3.95" height="58.39" fill="#9ba3ab"/>
<rect x="1150.80" y="458.20" width="3.95" height="0.55" fill="#e8a838"/>
<rect x="1150.80" y="415.06" width="3.95" height="43.14" fill="#22a762"/>
<rect x="1156.88" y="530.68" width="3.95" height="33.42" fill="#8c641a"/>
<rect x="1156.88" y="530.33" width="3.95" height="0.35" fill="#a0c0fa"/>
<rect x="1156.88" y="512.12" width="3.95" height="18.21" fill="#6495ed"/>
<rect x="1156.88" y="503.59" width="3.95" height="8.53" fill="#5a08a8"/>
<rect x="1156.88" y="500.08" width="3.95" height="3.51" fill="#fb4e4e"/>
<rect x="1156.88" y="495.57" width="3.95" height="4.51" fill="#7dcaa0"/>
<rect x="1156.88" y="410.95" width="3.95" height="84.62" fill="#9ba3ab"/>
<rect x="1156.88" y="410.29" width="3.95" height="0.66" fill="#e8a838"/>
<rect x="1156.88" y="358.70" width="3.95" height="51.59" fill="#22a762"/>
<rect x="1162.96" y="546.73" width="3.95" height="17.37" fill="#8c641a"/>
<rect x="1162.96" y="546.38" width="3.95" height="0.35" fill="#a0c0fa"/>
<rect x="1162.96" y="536.20" width="3.95" height="10.18" fill="#6495ed"/>
<rect x="1162.96" y="532.19" width="3.95" height="4.01" fill="#5a08a8"/>
<rect x="1162.96" y="530.18" width="3.95" height="2.01" fill="#fb4e4e"/>
<rect x="1162.96" y="527.42" width="3.95" height="2.76" fill="#7dcaa0"/>
<rect x="1162.96" y="483.74" width="3.95" height="43.68" fill="#9ba3ab"/>
<rect x="1162.96" y="483.28" width="3.95" height="0.47" fill="#e8a838"/>
<rect x="1162.96" y="455.69" width="3.95" height="27.59" fill="#22a762"/>
<rect x="1169.04" y="538.71" width="3.95" height="25.39" fill="#8c641a"/>
<rect x="1169.04" y="538.36" width="3.95" height="0.35" fill="#a0c0fa"/>
<rect x="1169.04" y="520.65" width="3.95" height="17.71" fill="#6495ed"/>
<rect x="1169.04" y="515.13" width="3.95" height="5.52" fill="#5a08a8"/>
<rect x="1169.04" y="512.12" width="3.95" height="3.01" fill="#fb4e4e"/>
<rect x="1169.04" y="506.85" width="3.95" height="5.27" fill="#7dcaa0"/>
<rect x="1169.04" y="443.73" width="3.95" height="63.12" fill="#9ba3ab"/>
<rect x="1169.04" y="443.15" width="3.95" height="0.59" fill="#e8a838"/>
<rect x="1169.04" y="395.50" width="3.95" height="47.65" fill="#22a762"/>
<rect x="1175.12" y="548.74" width="3.95" height="15.36" fill="#8c641a"/>
<rect x="1175.12" y="548.39" width="3.95" height="0.35" fill="#a0c0fa"/>
<rect x="1175.12" y="540.21" width="3.95" height="8.18" fill="#6495ed"/>
<rect x="1175.12" y="536.70" width="3.95" height="3.51" fill="#5a08a8"/>
<rect x="1175.12" y="534.69" width="3.95" height="2.01" fill="#fb4e4e"/>
<rect x="1175.12" y="530.43" width="3.95" height="4.26" fill="#7dcaa0"/>
<rect x="1175.12" y="488.76" width="3.95" height="41.67" fill="#9ba3ab"/>
<rect x="1175.12" y="488.29" width="3.95" height="0.46" fill="#e8a838"/>
<rect x="1175.12" y="457.44" width="3.95" height="30.85" fill="#22a762"/>
<rect x="1181.19" y="551.75" width="3.95" height="12.35" fill="#8c641a"/>
<rect x="1181.19" y="551.40" width="3.95" height="0.35" fill="#a0c0fa"/>
<rect x="1181.19" y="545.73" width="3.95" height="5.67" fill="#6495ed"/>
<rect x="1181.19" y="543.22" width="3.95" height="2.51" fill="#5a08a8"/>
<rect x="1181.19" y="541.72" width="3.95" height="1.50" fill="#fb4e4e"/>
<rect x="1181.19" y="539.21" width="3.95" height="2.51" fill="#7dcaa0"/>
<rect x="1181.19" y="507.76" width="3.95" height="31.45" fill="#9ba3ab"/>
<rect x="1181.19" y="507.36" width="3.95" height="0.41" fill="#e8a838"/>
<rect x="1181.19" y="485.28" width="3.95" height="22.07" fill="#22a762"/>
</g>
<rect x="78" y="104" width="2" height="460" fill="#000" fill-opacity="0.44"/>
<rect x="72" y="564" width="1114" height="2" fill="#000" fill-opacity="0.44"/>
<rect x="1186" y="104" width="2" height="460" fill="#000" fill-opacity="0.44"/>
<rect x="72" y="102" width="8" height="2" fill="#000" fill-opacity="0.44"/>
<rect x="72" y="258" width="8" height="2" fill="#000" fill-opacity="0.44"/>
<rect x="72" y="410" width="8" height="2" fill="#000" fill-opacity="0.44"/>
<rect x="118" y="564" width="2" height="7.85" fill="#000" fill-opacity="0.44"/>
<rect x="306" y="564" width="2" height="7.85" fill="#000" fill-opacity="0.44"/>
<rect x="488" y="564" width="2" height="7.85" fill="#000" fill-opacity="0.44"/>
<rect x="676" y="564" width="2" height="7.85" fill="#000" fill-opacity="0.44"/>
<rect x="858" y="564" width="2" height="7.85" fill="#000" fill-opacity="0.44"/>
<rect x="1048" y="564" width="2" height="7.85" fill="#000" fill-opacity="0.44"/>
<circle cx="100" cy="634" r="6" fill="#8c641a"/>
<circle cx="214" cy="634" r="6" fill="#a0c0fa"/>
<circle cx="326" cy="634" r="6" fill="#6495ed"/>
<circle cx="438" cy="634" r="6" fill="#5a08a8"/>
<circle cx="528" cy="634" r="6" fill="#36404a"/>
<circle cx="650" cy="634" r="6" fill="#fb4e4e"/>
<circle cx="756" cy="634" r="6" fill="#7dcaa0"/>
<circle cx="836" cy="634" r="6" fill="#9ba3ab"/>
<circle cx="934" cy="634" r="6" fill="#e8a838"/>
<circle cx="1040" cy="634" r="6" fill="#22a762"/>
<g opacity="0.999">
<text class="logo" transform="translate(28.76,63.41) scale(0.7022,0.9573)" style="font-size:41.2px;stroke-width:0.9px;">s</text>
<text class="logo" transform="translate(46.05,63.65) scale(0.8602,0.9919)" style="font-size:42.5px;stroke-width:0.3px;">k</text>
<text class="logo" transform="translate(66.35,63.5) scale(0.8991,0.9655)" style="font-size:41.2px;stroke-width:0.7px;">e</text>
<text class="logo" transform="translate(88.52,63.34) scale(0.8271,0.9275)" style="font-size:41.2px;stroke-width:1.0px;">w</text>
<text class="tt" transform="translate(376.43,58.2) scale(1.0156,1.0)" style="font-size:24.0px;stroke-width:0.9px;">ETH</text>
<text class="tt" transform="translate(431.44,58.2) scale(1.0076,1.0)" style="font-size:24.0px;stroke-width:0.9px;">Futures</text>
<text class="tt" transform="translate(519.73,58.2) scale(0.9925,1.0)" style="font-size:24.0px;stroke-width:0.9px;">-</text>
<text class="tt" transform="translate(534.74,58.2) scale(1.0351,1.0)" style="font-size:24.0px;stroke-width:0.9px;">Aggregated</text>
<text class="tt" transform="translate(670.45,58.2) scale(0.9971,1.0)" style="font-size:24.0px;stroke-width:0.9px;">Daily</text>
<text class="tt" transform="translate(731.33,58.2) scale(1.0011,1.0)" style="font-size:24.0px;stroke-width:0.9px;">Volumes</text>
<text class="ax" transform="translate(15.24,110.1) scale(1.0462,1.0)" style="font-size:21.7px;">$15b</text>
<text class="ax" transform="translate(15.24,263.9) scale(1.0462,1.0)" style="font-size:21.7px;">$10b</text>
<text class="ax" transform="translate(28.14,415.95) scale(1.04,1.0)" style="font-size:21.7px;">$5b</text>
<text class="ax" transform="translate(41.35,569.9) scale(1.0196,1.0)" style="font-size:21.7px;">$0</text>
<text class="ax" transform="translate(82.72,601.9) scale(1.0753,1.0)" style="font-size:21.6px;">Mar-20</text>
<text class="ax" transform="translate(271.96,601.9) scale(1.0896,1.0)" style="font-size:21.6px;">Apr-20</text>
<text class="ax" transform="translate(451.86,601.9) scale(1.0494,1.0)" style="font-size:21.6px;">May-20</text>
<text class="ax" transform="translate(644.82,601.9) scale(1.0066,1.0)" style="font-size:21.6px;">Jun-20</text>
<text class="ax" transform="translate(829.81,601.9) scale(1.0291,1.0)" style="font-size:21.6px;">Jul-20</text>
<text class="ax" transform="translate(1013.17,601.9) scale(1.0404,1.0)" style="font-size:21.6px;">Aug-20</text>
<text class="lg" transform="translate(121.55,637.7) scale(0.982,1.0)" style="font-size:20.6px;stroke-width:0.55px;">Binance</text>
<text class="lg" transform="translate(235.8,637.7) scale(1.084,1.0)" style="font-size:20.6px;stroke-width:0.55px;">Bitfinex</text>
<text class="lg" transform="translate(347.84,637.7) scale(1.0589,1.0)" style="font-size:20.6px;stroke-width:0.55px;">BitMEX</text>
<text class="lg" transform="translate(459.85,637.7) scale(1.049,1.0)" style="font-size:20.6px;stroke-width:0.55px;">Bybit</text>
<text class="lg" transform="translate(550.3,637.7) scale(0.9683,1.0)" style="font-size:20.6px;stroke-width:0.55px;">CoinFlex</text>
<text class="lg" transform="translate(672.07,637.7) scale(1.0382,1.0)" style="font-size:20.6px;stroke-width:0.55px;">Deribit</text>
<text class="lg" transform="translate(777.95,637.7) scale(0.9845,1.0)" style="font-size:20.6px;stroke-width:0.55px;">FTX</text>
<text class="lg" transform="translate(858.08,637.7) scale(1.0318,1.0)" style="font-size:20.6px;stroke-width:0.55px;">Huobi</text>
<text class="lg" transform="translate(956.12,637.7) scale(1.002,1.0)" style="font-size:20.6px;stroke-width:0.55px;">Kraken</text>
<text class="lg" transform="translate(1061.9,637.7) scale(0.9689,1.0)" style="font-size:20.6px;stroke-width:0.55px;">OKEx</text>
</g>
</svg></body></html>
